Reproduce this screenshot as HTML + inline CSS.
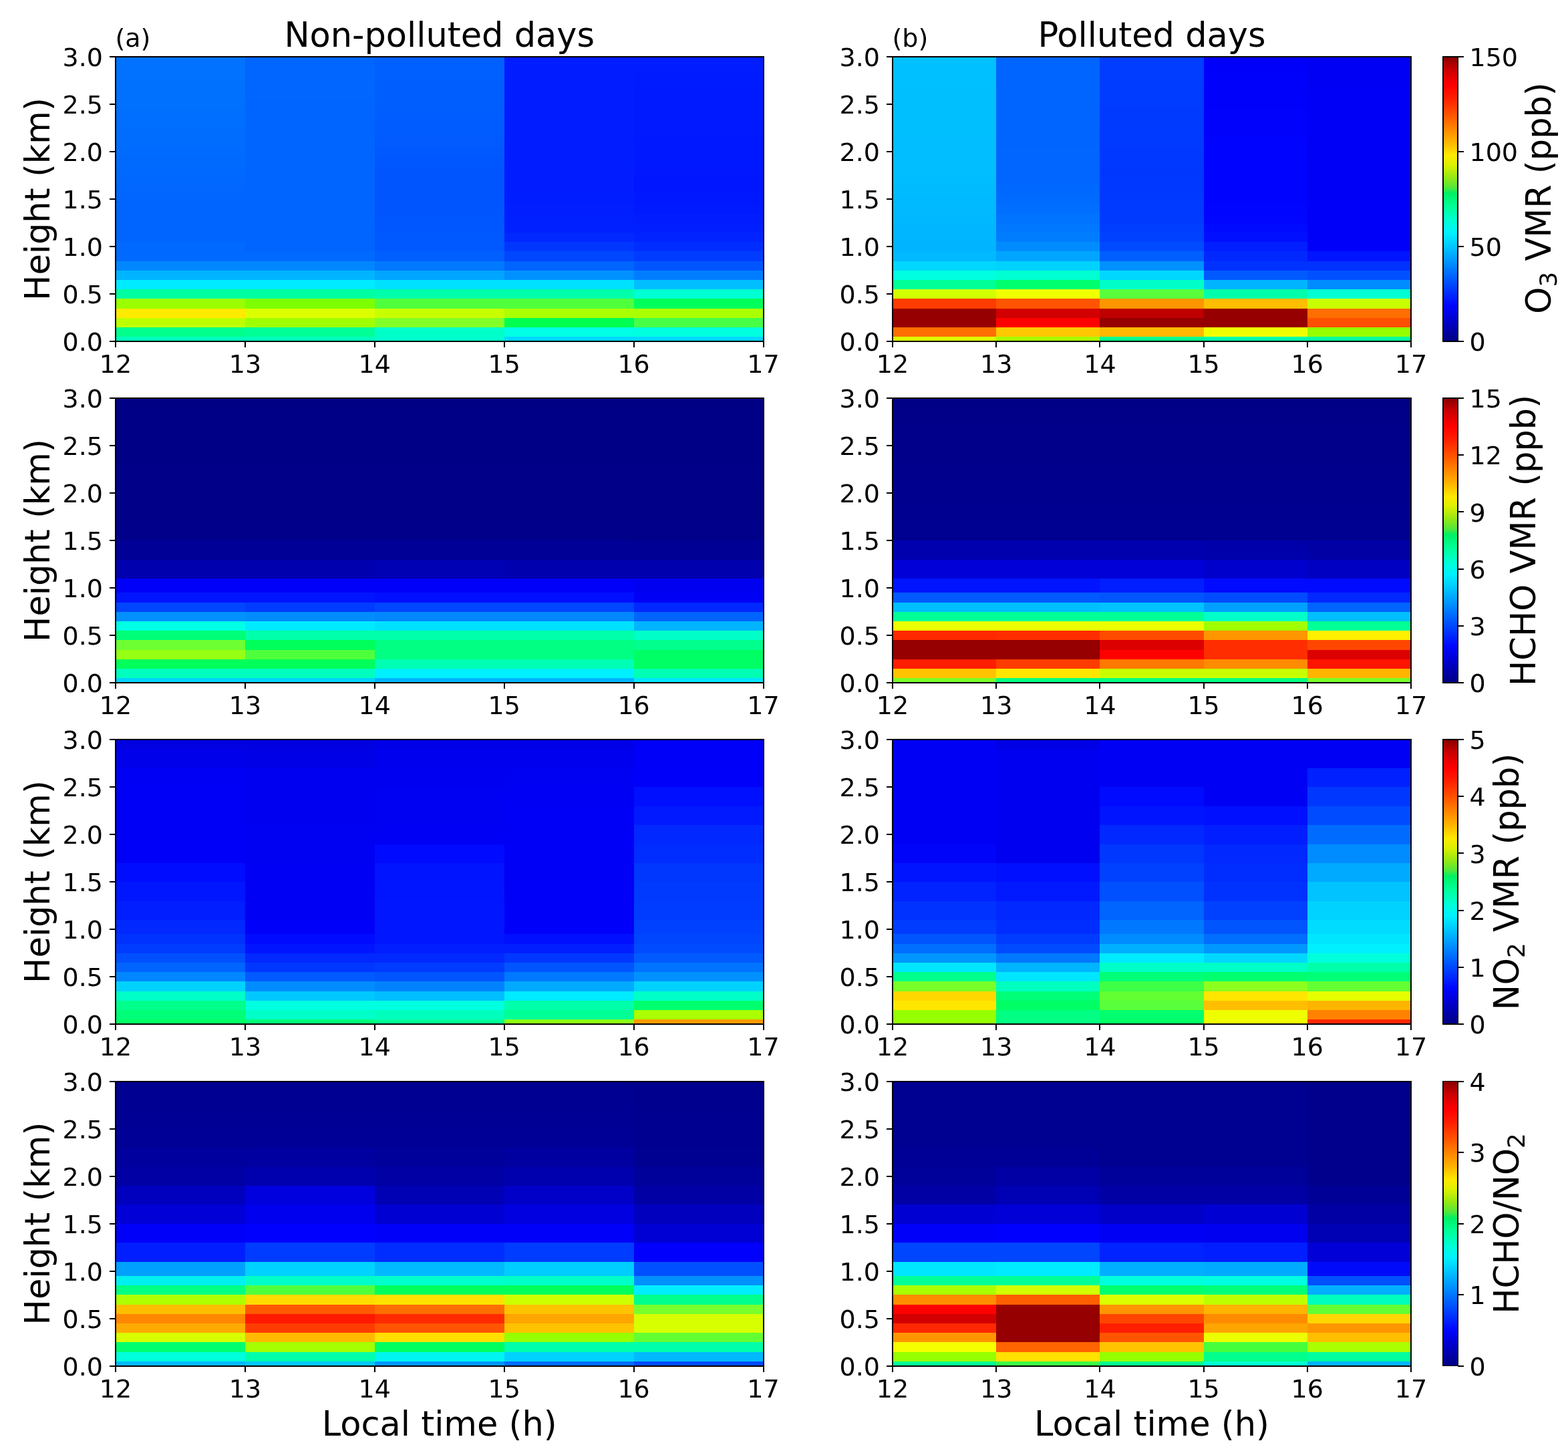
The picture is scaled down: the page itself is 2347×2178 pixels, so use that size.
<!DOCTYPE html>
<html><head><meta charset="utf-8"><title>Non-polluted vs polluted days profiles</title>
<style>
html,body{margin:0;padding:0;background:#fff;}
body{width:2347px;height:2178px;overflow:hidden;}
svg{display:block;font-family:"DejaVu Sans","Liberation Sans",sans-serif;fill:#000;}
</style></head>
<body>
<svg width="2347" height="2178" viewBox="0 0 2347 2178" shape-rendering="crispEdges">
<rect width="2347" height="2178" fill="#fff"/>
<rect x="173.00" y="503.60" width="194.30" height="7.70" fill="#00ffbe"/>
<rect x="173.00" y="489.40" width="194.30" height="14.80" fill="#00ff8c"/>
<rect x="173.00" y="475.20" width="194.30" height="14.80" fill="#beff00"/>
<rect x="173.00" y="461.00" width="194.30" height="14.80" fill="#ffeb00"/>
<rect x="173.00" y="446.80" width="194.30" height="14.80" fill="#9bff00"/>
<rect x="173.00" y="432.60" width="194.30" height="14.80" fill="#00ffa0"/>
<rect x="173.00" y="418.40" width="194.30" height="14.80" fill="#00ebff"/>
<rect x="173.00" y="404.20" width="194.30" height="14.80" fill="#00b4ff"/>
<rect x="173.00" y="390.00" width="194.30" height="14.80" fill="#0087ff"/>
<rect x="173.00" y="375.80" width="194.30" height="14.80" fill="#0069ff"/>
<rect x="173.00" y="361.60" width="194.30" height="14.80" fill="#0069ff"/>
<rect x="173.00" y="347.40" width="194.30" height="14.80" fill="#0064ff"/>
<rect x="173.00" y="333.20" width="194.30" height="14.80" fill="#0064ff"/>
<rect x="173.00" y="319.00" width="194.30" height="14.80" fill="#0064ff"/>
<rect x="173.00" y="304.80" width="194.30" height="14.80" fill="#0064ff"/>
<rect x="173.00" y="290.60" width="194.30" height="14.80" fill="#0064ff"/>
<rect x="173.00" y="276.40" width="194.30" height="14.80" fill="#0066ff"/>
<rect x="173.00" y="262.20" width="194.30" height="14.80" fill="#0067ff"/>
<rect x="173.00" y="248.00" width="194.30" height="14.80" fill="#0069ff"/>
<rect x="173.00" y="233.80" width="194.30" height="14.80" fill="#006aff"/>
<rect x="173.00" y="219.60" width="194.30" height="14.80" fill="#006cff"/>
<rect x="173.00" y="205.40" width="194.30" height="14.80" fill="#006dff"/>
<rect x="173.00" y="191.20" width="194.30" height="14.80" fill="#006dff"/>
<rect x="173.00" y="177.00" width="194.30" height="14.80" fill="#006eff"/>
<rect x="173.00" y="162.80" width="194.30" height="14.80" fill="#006fff"/>
<rect x="173.00" y="148.60" width="194.30" height="14.80" fill="#0070ff"/>
<rect x="173.00" y="134.40" width="194.30" height="14.80" fill="#0070ff"/>
<rect x="173.00" y="120.20" width="194.30" height="14.80" fill="#0071ff"/>
<rect x="173.00" y="106.00" width="194.30" height="14.80" fill="#0072ff"/>
<rect x="173.00" y="91.80" width="194.30" height="14.80" fill="#0072ff"/>
<rect x="173.00" y="84.70" width="194.30" height="7.70" fill="#0073ff"/>
<rect x="366.90" y="503.60" width="194.30" height="7.70" fill="#00ffbe"/>
<rect x="366.90" y="489.40" width="194.30" height="14.80" fill="#00ff96"/>
<rect x="366.90" y="475.20" width="194.30" height="14.80" fill="#a0ff00"/>
<rect x="366.90" y="461.00" width="194.30" height="14.80" fill="#dcff00"/>
<rect x="366.90" y="446.80" width="194.30" height="14.80" fill="#7dff00"/>
<rect x="366.90" y="432.60" width="194.30" height="14.80" fill="#00ffa0"/>
<rect x="366.90" y="418.40" width="194.30" height="14.80" fill="#00ebff"/>
<rect x="366.90" y="404.20" width="194.30" height="14.80" fill="#00b4ff"/>
<rect x="366.90" y="390.00" width="194.30" height="14.80" fill="#0087ff"/>
<rect x="366.90" y="375.80" width="194.30" height="14.80" fill="#0069ff"/>
<rect x="366.90" y="361.60" width="194.30" height="14.80" fill="#0064ff"/>
<rect x="366.90" y="347.40" width="194.30" height="14.80" fill="#0064ff"/>
<rect x="366.90" y="333.20" width="194.30" height="14.80" fill="#0064ff"/>
<rect x="366.90" y="319.00" width="194.30" height="14.80" fill="#0064ff"/>
<rect x="366.90" y="304.80" width="194.30" height="14.80" fill="#0064ff"/>
<rect x="366.90" y="290.60" width="194.30" height="14.80" fill="#0064ff"/>
<rect x="366.90" y="276.40" width="194.30" height="14.80" fill="#0065ff"/>
<rect x="366.90" y="262.20" width="194.30" height="14.80" fill="#0065ff"/>
<rect x="366.90" y="248.00" width="194.30" height="14.80" fill="#0065ff"/>
<rect x="366.90" y="233.80" width="194.30" height="14.80" fill="#0065ff"/>
<rect x="366.90" y="219.60" width="194.30" height="14.80" fill="#0065ff"/>
<rect x="366.90" y="205.40" width="194.30" height="14.80" fill="#0065ff"/>
<rect x="366.90" y="191.20" width="194.30" height="14.80" fill="#0065ff"/>
<rect x="366.90" y="177.00" width="194.30" height="14.80" fill="#0065ff"/>
<rect x="366.90" y="162.80" width="194.30" height="14.80" fill="#0065ff"/>
<rect x="366.90" y="148.60" width="194.30" height="14.80" fill="#0065ff"/>
<rect x="366.90" y="134.40" width="194.30" height="14.80" fill="#0066ff"/>
<rect x="366.90" y="120.20" width="194.30" height="14.80" fill="#0066ff"/>
<rect x="366.90" y="106.00" width="194.30" height="14.80" fill="#0066ff"/>
<rect x="366.90" y="91.80" width="194.30" height="14.80" fill="#0066ff"/>
<rect x="366.90" y="84.70" width="194.30" height="7.70" fill="#0066ff"/>
<rect x="560.80" y="503.60" width="194.30" height="7.70" fill="#00ffcd"/>
<rect x="560.80" y="489.40" width="194.30" height="14.80" fill="#00ffc8"/>
<rect x="560.80" y="475.20" width="194.30" height="14.80" fill="#82ff28"/>
<rect x="560.80" y="461.00" width="194.30" height="14.80" fill="#c8ff00"/>
<rect x="560.80" y="446.80" width="194.30" height="14.80" fill="#50ff3c"/>
<rect x="560.80" y="432.60" width="194.30" height="14.80" fill="#00ffaa"/>
<rect x="560.80" y="418.40" width="194.30" height="14.80" fill="#00e1ff"/>
<rect x="560.80" y="404.20" width="194.30" height="14.80" fill="#00a5ff"/>
<rect x="560.80" y="390.00" width="194.30" height="14.80" fill="#0078ff"/>
<rect x="560.80" y="375.80" width="194.30" height="14.80" fill="#005fff"/>
<rect x="560.80" y="361.60" width="194.30" height="14.80" fill="#0058ff"/>
<rect x="560.80" y="347.40" width="194.30" height="14.80" fill="#0058ff"/>
<rect x="560.80" y="333.20" width="194.30" height="14.80" fill="#0057ff"/>
<rect x="560.80" y="319.00" width="194.30" height="14.80" fill="#0056ff"/>
<rect x="560.80" y="304.80" width="194.30" height="14.80" fill="#0055ff"/>
<rect x="560.80" y="290.60" width="194.30" height="14.80" fill="#0055ff"/>
<rect x="560.80" y="276.40" width="194.30" height="14.80" fill="#0055ff"/>
<rect x="560.80" y="262.20" width="194.30" height="14.80" fill="#0055ff"/>
<rect x="560.80" y="248.00" width="194.30" height="14.80" fill="#0055ff"/>
<rect x="560.80" y="233.80" width="194.30" height="14.80" fill="#0057ff"/>
<rect x="560.80" y="219.60" width="194.30" height="14.80" fill="#0058ff"/>
<rect x="560.80" y="205.40" width="194.30" height="14.80" fill="#005aff"/>
<rect x="560.80" y="191.20" width="194.30" height="14.80" fill="#005cff"/>
<rect x="560.80" y="177.00" width="194.30" height="14.80" fill="#005cff"/>
<rect x="560.80" y="162.80" width="194.30" height="14.80" fill="#005dff"/>
<rect x="560.80" y="148.60" width="194.30" height="14.80" fill="#005eff"/>
<rect x="560.80" y="134.40" width="194.30" height="14.80" fill="#005eff"/>
<rect x="560.80" y="120.20" width="194.30" height="14.80" fill="#005eff"/>
<rect x="560.80" y="106.00" width="194.30" height="14.80" fill="#005fff"/>
<rect x="560.80" y="91.80" width="194.30" height="14.80" fill="#0060ff"/>
<rect x="560.80" y="84.70" width="194.30" height="7.70" fill="#0060ff"/>
<rect x="754.70" y="503.60" width="194.30" height="7.70" fill="#00d7ff"/>
<rect x="754.70" y="489.40" width="194.30" height="14.80" fill="#00ffe6"/>
<rect x="754.70" y="475.20" width="194.30" height="14.80" fill="#00ff50"/>
<rect x="754.70" y="461.00" width="194.30" height="14.80" fill="#aaff00"/>
<rect x="754.70" y="446.80" width="194.30" height="14.80" fill="#50ff3c"/>
<rect x="754.70" y="432.60" width="194.30" height="14.80" fill="#00ffaa"/>
<rect x="754.70" y="418.40" width="194.30" height="14.80" fill="#00e1ff"/>
<rect x="754.70" y="404.20" width="194.30" height="14.80" fill="#0091ff"/>
<rect x="754.70" y="390.00" width="194.30" height="14.80" fill="#0064ff"/>
<rect x="754.70" y="375.80" width="194.30" height="14.80" fill="#0046ff"/>
<rect x="754.70" y="361.60" width="194.30" height="14.80" fill="#0037ff"/>
<rect x="754.70" y="347.40" width="194.30" height="14.80" fill="#0028ff"/>
<rect x="754.70" y="333.20" width="194.30" height="14.80" fill="#0020ff"/>
<rect x="754.70" y="319.00" width="194.30" height="14.80" fill="#001fff"/>
<rect x="754.70" y="304.80" width="194.30" height="14.80" fill="#001eff"/>
<rect x="754.70" y="290.60" width="194.30" height="14.80" fill="#001dff"/>
<rect x="754.70" y="276.40" width="194.30" height="14.80" fill="#001cff"/>
<rect x="754.70" y="262.20" width="194.30" height="14.80" fill="#001cff"/>
<rect x="754.70" y="248.00" width="194.30" height="14.80" fill="#001cff"/>
<rect x="754.70" y="233.80" width="194.30" height="14.80" fill="#001cff"/>
<rect x="754.70" y="219.60" width="194.30" height="14.80" fill="#001cff"/>
<rect x="754.70" y="205.40" width="194.30" height="14.80" fill="#001cff"/>
<rect x="754.70" y="191.20" width="194.30" height="14.80" fill="#001cff"/>
<rect x="754.70" y="177.00" width="194.30" height="14.80" fill="#001cff"/>
<rect x="754.70" y="162.80" width="194.30" height="14.80" fill="#001cff"/>
<rect x="754.70" y="148.60" width="194.30" height="14.80" fill="#001cff"/>
<rect x="754.70" y="134.40" width="194.30" height="14.80" fill="#001cff"/>
<rect x="754.70" y="120.20" width="194.30" height="14.80" fill="#001cff"/>
<rect x="754.70" y="106.00" width="194.30" height="14.80" fill="#001cff"/>
<rect x="754.70" y="91.80" width="194.30" height="14.80" fill="#001cff"/>
<rect x="754.70" y="84.70" width="194.30" height="7.70" fill="#001cff"/>
<rect x="948.60" y="503.60" width="194.30" height="7.70" fill="#00d7ff"/>
<rect x="948.60" y="489.40" width="194.30" height="14.80" fill="#00ffe1"/>
<rect x="948.60" y="475.20" width="194.30" height="14.80" fill="#46ff46"/>
<rect x="948.60" y="461.00" width="194.30" height="14.80" fill="#aaff00"/>
<rect x="948.60" y="446.80" width="194.30" height="14.80" fill="#00ff5a"/>
<rect x="948.60" y="432.60" width="194.30" height="14.80" fill="#00ffd2"/>
<rect x="948.60" y="418.40" width="194.30" height="14.80" fill="#00beff"/>
<rect x="948.60" y="404.20" width="194.30" height="14.80" fill="#007dff"/>
<rect x="948.60" y="390.00" width="194.30" height="14.80" fill="#0055ff"/>
<rect x="948.60" y="375.80" width="194.30" height="14.80" fill="#003cff"/>
<rect x="948.60" y="361.60" width="194.30" height="14.80" fill="#002dff"/>
<rect x="948.60" y="347.40" width="194.30" height="14.80" fill="#0023ff"/>
<rect x="948.60" y="333.20" width="194.30" height="14.80" fill="#001eff"/>
<rect x="948.60" y="319.00" width="194.30" height="14.80" fill="#001cff"/>
<rect x="948.60" y="304.80" width="194.30" height="14.80" fill="#001aff"/>
<rect x="948.60" y="290.60" width="194.30" height="14.80" fill="#0018ff"/>
<rect x="948.60" y="276.40" width="194.30" height="14.80" fill="#0016ff"/>
<rect x="948.60" y="262.20" width="194.30" height="14.80" fill="#0016ff"/>
<rect x="948.60" y="248.00" width="194.30" height="14.80" fill="#0017ff"/>
<rect x="948.60" y="233.80" width="194.30" height="14.80" fill="#0018ff"/>
<rect x="948.60" y="219.60" width="194.30" height="14.80" fill="#0018ff"/>
<rect x="948.60" y="205.40" width="194.30" height="14.80" fill="#0018ff"/>
<rect x="948.60" y="191.20" width="194.30" height="14.80" fill="#0019ff"/>
<rect x="948.60" y="177.00" width="194.30" height="14.80" fill="#0019ff"/>
<rect x="948.60" y="162.80" width="194.30" height="14.80" fill="#001aff"/>
<rect x="948.60" y="148.60" width="194.30" height="14.80" fill="#001aff"/>
<rect x="948.60" y="134.40" width="194.30" height="14.80" fill="#001aff"/>
<rect x="948.60" y="120.20" width="194.30" height="14.80" fill="#001bff"/>
<rect x="948.60" y="106.00" width="194.30" height="14.80" fill="#001bff"/>
<rect x="948.60" y="91.80" width="194.30" height="14.80" fill="#001cff"/>
<rect x="948.60" y="84.70" width="194.30" height="7.70" fill="#001cff"/>
<rect x="173.00" y="85.00" width="969.50" height="426.00" fill="none" stroke="#000" stroke-width="2"/>
<line x1="164.00" y1="511.00" x2="173.00" y2="511.00" stroke="#000" stroke-width="2"/>
<text x="154.00" y="525.20" font-size="38" text-anchor="end">0.0</text>
<line x1="164.00" y1="440.00" x2="173.00" y2="440.00" stroke="#000" stroke-width="2"/>
<text x="154.00" y="454.20" font-size="38" text-anchor="end">0.5</text>
<line x1="164.00" y1="369.00" x2="173.00" y2="369.00" stroke="#000" stroke-width="2"/>
<text x="154.00" y="383.20" font-size="38" text-anchor="end">1.0</text>
<line x1="164.00" y1="298.00" x2="173.00" y2="298.00" stroke="#000" stroke-width="2"/>
<text x="154.00" y="312.20" font-size="38" text-anchor="end">1.5</text>
<line x1="164.00" y1="227.00" x2="173.00" y2="227.00" stroke="#000" stroke-width="2"/>
<text x="154.00" y="241.20" font-size="38" text-anchor="end">2.0</text>
<line x1="164.00" y1="156.00" x2="173.00" y2="156.00" stroke="#000" stroke-width="2"/>
<text x="154.00" y="170.20" font-size="38" text-anchor="end">2.5</text>
<line x1="164.00" y1="85.00" x2="173.00" y2="85.00" stroke="#000" stroke-width="2"/>
<text x="154.00" y="99.20" font-size="38" text-anchor="end">3.0</text>
<line x1="173.00" y1="511.00" x2="173.00" y2="520.00" stroke="#000" stroke-width="2"/>
<text x="173.00" y="558.00" font-size="38" text-anchor="middle">12</text>
<line x1="366.90" y1="511.00" x2="366.90" y2="520.00" stroke="#000" stroke-width="2"/>
<text x="366.90" y="558.00" font-size="38" text-anchor="middle">13</text>
<line x1="560.80" y1="511.00" x2="560.80" y2="520.00" stroke="#000" stroke-width="2"/>
<text x="560.80" y="558.00" font-size="38" text-anchor="middle">14</text>
<line x1="754.70" y1="511.00" x2="754.70" y2="520.00" stroke="#000" stroke-width="2"/>
<text x="754.70" y="558.00" font-size="38" text-anchor="middle">15</text>
<line x1="948.60" y1="511.00" x2="948.60" y2="520.00" stroke="#000" stroke-width="2"/>
<text x="948.60" y="558.00" font-size="38" text-anchor="middle">16</text>
<line x1="1142.50" y1="511.00" x2="1142.50" y2="520.00" stroke="#000" stroke-width="2"/>
<text x="1142.50" y="558.00" font-size="38" text-anchor="middle">17</text>
<rect x="1336.00" y="503.60" width="155.60" height="7.70" fill="#dcff00"/>
<rect x="1336.00" y="489.40" width="155.60" height="14.80" fill="#ff6e00"/>
<rect x="1336.00" y="475.20" width="155.60" height="14.80" fill="#960000"/>
<rect x="1336.00" y="461.00" width="155.60" height="14.80" fill="#960000"/>
<rect x="1336.00" y="446.80" width="155.60" height="14.80" fill="#ff3c00"/>
<rect x="1336.00" y="432.60" width="155.60" height="14.80" fill="#d2ff00"/>
<rect x="1336.00" y="418.40" width="155.60" height="14.80" fill="#00ff96"/>
<rect x="1336.00" y="404.20" width="155.60" height="14.80" fill="#00ffe1"/>
<rect x="1336.00" y="390.00" width="155.60" height="14.80" fill="#00d7ff"/>
<rect x="1336.00" y="375.80" width="155.60" height="14.80" fill="#00b9ff"/>
<rect x="1336.00" y="361.60" width="155.60" height="14.80" fill="#00b4ff"/>
<rect x="1336.00" y="347.40" width="155.60" height="14.80" fill="#00b6ff"/>
<rect x="1336.00" y="333.20" width="155.60" height="14.80" fill="#00b7ff"/>
<rect x="1336.00" y="319.00" width="155.60" height="14.80" fill="#00b8ff"/>
<rect x="1336.00" y="304.80" width="155.60" height="14.80" fill="#00b9ff"/>
<rect x="1336.00" y="290.60" width="155.60" height="14.80" fill="#00baff"/>
<rect x="1336.00" y="276.40" width="155.60" height="14.80" fill="#00bcff"/>
<rect x="1336.00" y="262.20" width="155.60" height="14.80" fill="#00bdff"/>
<rect x="1336.00" y="248.00" width="155.60" height="14.80" fill="#00beff"/>
<rect x="1336.00" y="233.80" width="155.60" height="14.80" fill="#00beff"/>
<rect x="1336.00" y="219.60" width="155.60" height="14.80" fill="#00beff"/>
<rect x="1336.00" y="205.40" width="155.60" height="14.80" fill="#00beff"/>
<rect x="1336.00" y="191.20" width="155.60" height="14.80" fill="#00bfff"/>
<rect x="1336.00" y="177.00" width="155.60" height="14.80" fill="#00bfff"/>
<rect x="1336.00" y="162.80" width="155.60" height="14.80" fill="#00bfff"/>
<rect x="1336.00" y="148.60" width="155.60" height="14.80" fill="#00bfff"/>
<rect x="1336.00" y="134.40" width="155.60" height="14.80" fill="#00bfff"/>
<rect x="1336.00" y="120.20" width="155.60" height="14.80" fill="#00c0ff"/>
<rect x="1336.00" y="106.00" width="155.60" height="14.80" fill="#00c0ff"/>
<rect x="1336.00" y="91.80" width="155.60" height="14.80" fill="#00c0ff"/>
<rect x="1336.00" y="84.70" width="155.60" height="7.70" fill="#00c0ff"/>
<rect x="1491.20" y="503.60" width="155.60" height="7.70" fill="#aaff00"/>
<rect x="1491.20" y="489.40" width="155.60" height="14.80" fill="#ffc800"/>
<rect x="1491.20" y="475.20" width="155.60" height="14.80" fill="#ff0000"/>
<rect x="1491.20" y="461.00" width="155.60" height="14.80" fill="#d20000"/>
<rect x="1491.20" y="446.80" width="155.60" height="14.80" fill="#ff5500"/>
<rect x="1491.20" y="432.60" width="155.60" height="14.80" fill="#f0ff00"/>
<rect x="1491.20" y="418.40" width="155.60" height="14.80" fill="#00ff6e"/>
<rect x="1491.20" y="404.20" width="155.60" height="14.80" fill="#00ffd2"/>
<rect x="1491.20" y="390.00" width="155.60" height="14.80" fill="#00d2ff"/>
<rect x="1491.20" y="375.80" width="155.60" height="14.80" fill="#00a5ff"/>
<rect x="1491.20" y="361.60" width="155.60" height="14.80" fill="#008cff"/>
<rect x="1491.20" y="347.40" width="155.60" height="14.80" fill="#007dff"/>
<rect x="1491.20" y="333.20" width="155.60" height="14.80" fill="#0078ff"/>
<rect x="1491.20" y="319.00" width="155.60" height="14.80" fill="#0073ff"/>
<rect x="1491.20" y="304.80" width="155.60" height="14.80" fill="#006eff"/>
<rect x="1491.20" y="290.60" width="155.60" height="14.80" fill="#006bff"/>
<rect x="1491.20" y="276.40" width="155.60" height="14.80" fill="#0069ff"/>
<rect x="1491.20" y="262.20" width="155.60" height="14.80" fill="#0066ff"/>
<rect x="1491.20" y="248.00" width="155.60" height="14.80" fill="#0066ff"/>
<rect x="1491.20" y="233.80" width="155.60" height="14.80" fill="#0066ff"/>
<rect x="1491.20" y="219.60" width="155.60" height="14.80" fill="#0066ff"/>
<rect x="1491.20" y="205.40" width="155.60" height="14.80" fill="#0065ff"/>
<rect x="1491.20" y="191.20" width="155.60" height="14.80" fill="#0065ff"/>
<rect x="1491.20" y="177.00" width="155.60" height="14.80" fill="#0065ff"/>
<rect x="1491.20" y="162.80" width="155.60" height="14.80" fill="#0065ff"/>
<rect x="1491.20" y="148.60" width="155.60" height="14.80" fill="#0065ff"/>
<rect x="1491.20" y="134.40" width="155.60" height="14.80" fill="#0065ff"/>
<rect x="1491.20" y="120.20" width="155.60" height="14.80" fill="#0064ff"/>
<rect x="1491.20" y="106.00" width="155.60" height="14.80" fill="#0064ff"/>
<rect x="1491.20" y="91.80" width="155.60" height="14.80" fill="#0064ff"/>
<rect x="1491.20" y="84.70" width="155.60" height="7.70" fill="#0064ff"/>
<rect x="1646.40" y="503.60" width="155.60" height="7.70" fill="#00ff8c"/>
<rect x="1646.40" y="489.40" width="155.60" height="14.80" fill="#ffb900"/>
<rect x="1646.40" y="475.20" width="155.60" height="14.80" fill="#960000"/>
<rect x="1646.40" y="461.00" width="155.60" height="14.80" fill="#be0000"/>
<rect x="1646.40" y="446.80" width="155.60" height="14.80" fill="#ff9600"/>
<rect x="1646.40" y="432.60" width="155.60" height="14.80" fill="#5aff3c"/>
<rect x="1646.40" y="418.40" width="155.60" height="14.80" fill="#00ffc8"/>
<rect x="1646.40" y="404.20" width="155.60" height="14.80" fill="#00d7ff"/>
<rect x="1646.40" y="390.00" width="155.60" height="14.80" fill="#0091ff"/>
<rect x="1646.40" y="375.80" width="155.60" height="14.80" fill="#005fff"/>
<rect x="1646.40" y="361.60" width="155.60" height="14.80" fill="#004bff"/>
<rect x="1646.40" y="347.40" width="155.60" height="14.80" fill="#0041ff"/>
<rect x="1646.40" y="333.20" width="155.60" height="14.80" fill="#003eff"/>
<rect x="1646.40" y="319.00" width="155.60" height="14.80" fill="#003aff"/>
<rect x="1646.40" y="304.80" width="155.60" height="14.80" fill="#0039ff"/>
<rect x="1646.40" y="290.60" width="155.60" height="14.80" fill="#0039ff"/>
<rect x="1646.40" y="276.40" width="155.60" height="14.80" fill="#0038ff"/>
<rect x="1646.40" y="262.20" width="155.60" height="14.80" fill="#0038ff"/>
<rect x="1646.40" y="248.00" width="155.60" height="14.80" fill="#0037ff"/>
<rect x="1646.40" y="233.80" width="155.60" height="14.80" fill="#0038ff"/>
<rect x="1646.40" y="219.60" width="155.60" height="14.80" fill="#0038ff"/>
<rect x="1646.40" y="205.40" width="155.60" height="14.80" fill="#0039ff"/>
<rect x="1646.40" y="191.20" width="155.60" height="14.80" fill="#0039ff"/>
<rect x="1646.40" y="177.00" width="155.60" height="14.80" fill="#003aff"/>
<rect x="1646.40" y="162.80" width="155.60" height="14.80" fill="#003aff"/>
<rect x="1646.40" y="148.60" width="155.60" height="14.80" fill="#003bff"/>
<rect x="1646.40" y="134.40" width="155.60" height="14.80" fill="#003cff"/>
<rect x="1646.40" y="120.20" width="155.60" height="14.80" fill="#003cff"/>
<rect x="1646.40" y="106.00" width="155.60" height="14.80" fill="#003dff"/>
<rect x="1646.40" y="91.80" width="155.60" height="14.80" fill="#003dff"/>
<rect x="1646.40" y="84.70" width="155.60" height="7.70" fill="#003eff"/>
<rect x="1801.60" y="503.60" width="155.60" height="7.70" fill="#00ffaa"/>
<rect x="1801.60" y="489.40" width="155.60" height="14.80" fill="#f0ff00"/>
<rect x="1801.60" y="475.20" width="155.60" height="14.80" fill="#960000"/>
<rect x="1801.60" y="461.00" width="155.60" height="14.80" fill="#960000"/>
<rect x="1801.60" y="446.80" width="155.60" height="14.80" fill="#ffbe00"/>
<rect x="1801.60" y="432.60" width="155.60" height="14.80" fill="#00ffaa"/>
<rect x="1801.60" y="418.40" width="155.60" height="14.80" fill="#00b4ff"/>
<rect x="1801.60" y="404.20" width="155.60" height="14.80" fill="#005aff"/>
<rect x="1801.60" y="390.00" width="155.60" height="14.80" fill="#0032ff"/>
<rect x="1801.60" y="375.80" width="155.60" height="14.80" fill="#0028ff"/>
<rect x="1801.60" y="361.60" width="155.60" height="14.80" fill="#001eff"/>
<rect x="1801.60" y="347.40" width="155.60" height="14.80" fill="#000fff"/>
<rect x="1801.60" y="333.20" width="155.60" height="14.80" fill="#000aff"/>
<rect x="1801.60" y="319.00" width="155.60" height="14.80" fill="#0005ff"/>
<rect x="1801.60" y="304.80" width="155.60" height="14.80" fill="#0005ff"/>
<rect x="1801.60" y="290.60" width="155.60" height="14.80" fill="#0004fe"/>
<rect x="1801.60" y="276.40" width="155.60" height="14.80" fill="#0004fe"/>
<rect x="1801.60" y="262.20" width="155.60" height="14.80" fill="#0004fe"/>
<rect x="1801.60" y="248.00" width="155.60" height="14.80" fill="#0004fe"/>
<rect x="1801.60" y="233.80" width="155.60" height="14.80" fill="#0003fd"/>
<rect x="1801.60" y="219.60" width="155.60" height="14.80" fill="#0003fd"/>
<rect x="1801.60" y="205.40" width="155.60" height="14.80" fill="#0003fd"/>
<rect x="1801.60" y="191.20" width="155.60" height="14.80" fill="#0002fc"/>
<rect x="1801.60" y="177.00" width="155.60" height="14.80" fill="#0002fc"/>
<rect x="1801.60" y="162.80" width="155.60" height="14.80" fill="#0002fc"/>
<rect x="1801.60" y="148.60" width="155.60" height="14.80" fill="#0001fb"/>
<rect x="1801.60" y="134.40" width="155.60" height="14.80" fill="#0001fb"/>
<rect x="1801.60" y="120.20" width="155.60" height="14.80" fill="#0001fb"/>
<rect x="1801.60" y="106.00" width="155.60" height="14.80" fill="#0001fb"/>
<rect x="1801.60" y="91.80" width="155.60" height="14.80" fill="#0000fa"/>
<rect x="1801.60" y="84.70" width="155.60" height="7.70" fill="#0000fa"/>
<rect x="1956.80" y="503.60" width="155.60" height="7.70" fill="#00ffa0"/>
<rect x="1956.80" y="489.40" width="155.60" height="14.80" fill="#96ff00"/>
<rect x="1956.80" y="475.20" width="155.60" height="14.80" fill="#ff5000"/>
<rect x="1956.80" y="461.00" width="155.60" height="14.80" fill="#ff6e00"/>
<rect x="1956.80" y="446.80" width="155.60" height="14.80" fill="#c8ff00"/>
<rect x="1956.80" y="432.60" width="155.60" height="14.80" fill="#00ffd2"/>
<rect x="1956.80" y="418.40" width="155.60" height="14.80" fill="#008cff"/>
<rect x="1956.80" y="404.20" width="155.60" height="14.80" fill="#0050ff"/>
<rect x="1956.80" y="390.00" width="155.60" height="14.80" fill="#0032ff"/>
<rect x="1956.80" y="375.80" width="155.60" height="14.80" fill="#0014ff"/>
<rect x="1956.80" y="361.60" width="155.60" height="14.80" fill="#0000fa"/>
<rect x="1956.80" y="347.40" width="155.60" height="14.80" fill="#0000f8"/>
<rect x="1956.80" y="333.20" width="155.60" height="14.80" fill="#0000f8"/>
<rect x="1956.80" y="319.00" width="155.60" height="14.80" fill="#0000f8"/>
<rect x="1956.80" y="304.80" width="155.60" height="14.80" fill="#0000f8"/>
<rect x="1956.80" y="290.60" width="155.60" height="14.80" fill="#0000f7"/>
<rect x="1956.80" y="276.40" width="155.60" height="14.80" fill="#0000f7"/>
<rect x="1956.80" y="262.20" width="155.60" height="14.80" fill="#0000f7"/>
<rect x="1956.80" y="248.00" width="155.60" height="14.80" fill="#0000f7"/>
<rect x="1956.80" y="233.80" width="155.60" height="14.80" fill="#0000f7"/>
<rect x="1956.80" y="219.60" width="155.60" height="14.80" fill="#0000f7"/>
<rect x="1956.80" y="205.40" width="155.60" height="14.80" fill="#0000f6"/>
<rect x="1956.80" y="191.20" width="155.60" height="14.80" fill="#0000f6"/>
<rect x="1956.80" y="177.00" width="155.60" height="14.80" fill="#0000f6"/>
<rect x="1956.80" y="162.80" width="155.60" height="14.80" fill="#0000f6"/>
<rect x="1956.80" y="148.60" width="155.60" height="14.80" fill="#0000f6"/>
<rect x="1956.80" y="134.40" width="155.60" height="14.80" fill="#0000f6"/>
<rect x="1956.80" y="120.20" width="155.60" height="14.80" fill="#0000f5"/>
<rect x="1956.80" y="106.00" width="155.60" height="14.80" fill="#0000f5"/>
<rect x="1956.80" y="91.80" width="155.60" height="14.80" fill="#0000f5"/>
<rect x="1956.80" y="84.70" width="155.60" height="7.70" fill="#0000f5"/>
<rect x="1336.00" y="85.00" width="776.00" height="426.00" fill="none" stroke="#000" stroke-width="2"/>
<line x1="1327.00" y1="511.00" x2="1336.00" y2="511.00" stroke="#000" stroke-width="2"/>
<text x="1317.00" y="525.20" font-size="38" text-anchor="end">0.0</text>
<line x1="1327.00" y1="440.00" x2="1336.00" y2="440.00" stroke="#000" stroke-width="2"/>
<text x="1317.00" y="454.20" font-size="38" text-anchor="end">0.5</text>
<line x1="1327.00" y1="369.00" x2="1336.00" y2="369.00" stroke="#000" stroke-width="2"/>
<text x="1317.00" y="383.20" font-size="38" text-anchor="end">1.0</text>
<line x1="1327.00" y1="298.00" x2="1336.00" y2="298.00" stroke="#000" stroke-width="2"/>
<text x="1317.00" y="312.20" font-size="38" text-anchor="end">1.5</text>
<line x1="1327.00" y1="227.00" x2="1336.00" y2="227.00" stroke="#000" stroke-width="2"/>
<text x="1317.00" y="241.20" font-size="38" text-anchor="end">2.0</text>
<line x1="1327.00" y1="156.00" x2="1336.00" y2="156.00" stroke="#000" stroke-width="2"/>
<text x="1317.00" y="170.20" font-size="38" text-anchor="end">2.5</text>
<line x1="1327.00" y1="85.00" x2="1336.00" y2="85.00" stroke="#000" stroke-width="2"/>
<text x="1317.00" y="99.20" font-size="38" text-anchor="end">3.0</text>
<line x1="1336.00" y1="511.00" x2="1336.00" y2="520.00" stroke="#000" stroke-width="2"/>
<text x="1336.00" y="558.00" font-size="38" text-anchor="middle">12</text>
<line x1="1491.20" y1="511.00" x2="1491.20" y2="520.00" stroke="#000" stroke-width="2"/>
<text x="1491.20" y="558.00" font-size="38" text-anchor="middle">13</text>
<line x1="1646.40" y1="511.00" x2="1646.40" y2="520.00" stroke="#000" stroke-width="2"/>
<text x="1646.40" y="558.00" font-size="38" text-anchor="middle">14</text>
<line x1="1801.60" y1="511.00" x2="1801.60" y2="520.00" stroke="#000" stroke-width="2"/>
<text x="1801.60" y="558.00" font-size="38" text-anchor="middle">15</text>
<line x1="1956.80" y1="511.00" x2="1956.80" y2="520.00" stroke="#000" stroke-width="2"/>
<text x="1956.80" y="558.00" font-size="38" text-anchor="middle">16</text>
<line x1="2112.00" y1="511.00" x2="2112.00" y2="520.00" stroke="#000" stroke-width="2"/>
<text x="2112.00" y="558.00" font-size="38" text-anchor="middle">17</text>
<rect x="173.00" y="1014.60" width="194.30" height="7.70" fill="#00d2ff"/>
<rect x="173.00" y="1000.40" width="194.30" height="14.80" fill="#00ffbe"/>
<rect x="173.00" y="986.20" width="194.30" height="14.80" fill="#00ff5a"/>
<rect x="173.00" y="972.00" width="194.30" height="14.80" fill="#96ff14"/>
<rect x="173.00" y="957.80" width="194.30" height="14.80" fill="#6eff32"/>
<rect x="173.00" y="943.60" width="194.30" height="14.80" fill="#00ff78"/>
<rect x="173.00" y="929.40" width="194.30" height="14.80" fill="#00ffe6"/>
<rect x="173.00" y="915.20" width="194.30" height="14.80" fill="#0091ff"/>
<rect x="173.00" y="901.00" width="194.30" height="14.80" fill="#0046ff"/>
<rect x="173.00" y="886.80" width="194.30" height="14.80" fill="#0014ff"/>
<rect x="173.00" y="865.50" width="194.30" height="21.90" fill="#0000fa"/>
<rect x="173.00" y="837.10" width="194.30" height="29.00" fill="#0000af"/>
<rect x="173.00" y="808.70" width="194.30" height="29.00" fill="#000096"/>
<rect x="173.00" y="780.30" width="194.30" height="29.00" fill="#00008a"/>
<rect x="173.00" y="751.90" width="194.30" height="29.00" fill="#000089"/>
<rect x="173.00" y="723.50" width="194.30" height="29.00" fill="#000089"/>
<rect x="173.00" y="695.10" width="194.30" height="29.00" fill="#000088"/>
<rect x="173.00" y="666.70" width="194.30" height="29.00" fill="#000087"/>
<rect x="173.00" y="638.30" width="194.30" height="29.00" fill="#000086"/>
<rect x="173.00" y="609.90" width="194.30" height="29.00" fill="#000086"/>
<rect x="173.00" y="595.70" width="194.30" height="14.80" fill="#000085"/>
<rect x="366.90" y="1014.60" width="194.30" height="7.70" fill="#00d2ff"/>
<rect x="366.90" y="1000.40" width="194.30" height="14.80" fill="#00ffbe"/>
<rect x="366.90" y="986.20" width="194.30" height="14.80" fill="#00ff5a"/>
<rect x="366.90" y="972.00" width="194.30" height="14.80" fill="#50ff3c"/>
<rect x="366.90" y="957.80" width="194.30" height="14.80" fill="#00ff5a"/>
<rect x="366.90" y="943.60" width="194.30" height="14.80" fill="#00ffaa"/>
<rect x="366.90" y="929.40" width="194.30" height="14.80" fill="#00ebff"/>
<rect x="366.90" y="915.20" width="194.30" height="14.80" fill="#008cff"/>
<rect x="366.90" y="901.00" width="194.30" height="14.80" fill="#003cff"/>
<rect x="366.90" y="886.80" width="194.30" height="14.80" fill="#0014ff"/>
<rect x="366.90" y="865.50" width="194.30" height="21.90" fill="#0000fa"/>
<rect x="366.90" y="837.10" width="194.30" height="29.00" fill="#0000af"/>
<rect x="366.90" y="808.70" width="194.30" height="29.00" fill="#000096"/>
<rect x="366.90" y="780.30" width="194.30" height="29.00" fill="#00008a"/>
<rect x="366.90" y="751.90" width="194.30" height="29.00" fill="#000089"/>
<rect x="366.90" y="723.50" width="194.30" height="29.00" fill="#000089"/>
<rect x="366.90" y="695.10" width="194.30" height="29.00" fill="#000088"/>
<rect x="366.90" y="666.70" width="194.30" height="29.00" fill="#000087"/>
<rect x="366.90" y="638.30" width="194.30" height="29.00" fill="#000086"/>
<rect x="366.90" y="609.90" width="194.30" height="29.00" fill="#000086"/>
<rect x="366.90" y="595.70" width="194.30" height="14.80" fill="#000085"/>
<rect x="560.80" y="1014.60" width="194.30" height="7.70" fill="#00b4ff"/>
<rect x="560.80" y="1000.40" width="194.30" height="14.80" fill="#00f0ff"/>
<rect x="560.80" y="986.20" width="194.30" height="14.80" fill="#00ffb4"/>
<rect x="560.80" y="972.00" width="194.30" height="14.80" fill="#00ff82"/>
<rect x="560.80" y="957.80" width="194.30" height="14.80" fill="#00ff82"/>
<rect x="560.80" y="943.60" width="194.30" height="14.80" fill="#00ffaa"/>
<rect x="560.80" y="929.40" width="194.30" height="14.80" fill="#00e1ff"/>
<rect x="560.80" y="915.20" width="194.30" height="14.80" fill="#0087ff"/>
<rect x="560.80" y="901.00" width="194.30" height="14.80" fill="#0046ff"/>
<rect x="560.80" y="886.80" width="194.30" height="14.80" fill="#000fff"/>
<rect x="560.80" y="865.50" width="194.30" height="21.90" fill="#0000fa"/>
<rect x="560.80" y="837.10" width="194.30" height="29.00" fill="#0000b4"/>
<rect x="560.80" y="808.70" width="194.30" height="29.00" fill="#000096"/>
<rect x="560.80" y="780.30" width="194.30" height="29.00" fill="#00008a"/>
<rect x="560.80" y="751.90" width="194.30" height="29.00" fill="#000089"/>
<rect x="560.80" y="723.50" width="194.30" height="29.00" fill="#000089"/>
<rect x="560.80" y="695.10" width="194.30" height="29.00" fill="#000088"/>
<rect x="560.80" y="666.70" width="194.30" height="29.00" fill="#000087"/>
<rect x="560.80" y="638.30" width="194.30" height="29.00" fill="#000086"/>
<rect x="560.80" y="609.90" width="194.30" height="29.00" fill="#000086"/>
<rect x="560.80" y="595.70" width="194.30" height="14.80" fill="#000085"/>
<rect x="754.70" y="1014.60" width="194.30" height="7.70" fill="#00b4ff"/>
<rect x="754.70" y="1000.40" width="194.30" height="14.80" fill="#00f0ff"/>
<rect x="754.70" y="986.20" width="194.30" height="14.80" fill="#00ffb4"/>
<rect x="754.70" y="972.00" width="194.30" height="14.80" fill="#00ff82"/>
<rect x="754.70" y="957.80" width="194.30" height="14.80" fill="#00ff82"/>
<rect x="754.70" y="943.60" width="194.30" height="14.80" fill="#00ffaa"/>
<rect x="754.70" y="929.40" width="194.30" height="14.80" fill="#00e1ff"/>
<rect x="754.70" y="915.20" width="194.30" height="14.80" fill="#0087ff"/>
<rect x="754.70" y="901.00" width="194.30" height="14.80" fill="#0046ff"/>
<rect x="754.70" y="886.80" width="194.30" height="14.80" fill="#000fff"/>
<rect x="754.70" y="865.50" width="194.30" height="21.90" fill="#0000fa"/>
<rect x="754.70" y="837.10" width="194.30" height="29.00" fill="#0000af"/>
<rect x="754.70" y="808.70" width="194.30" height="29.00" fill="#000096"/>
<rect x="754.70" y="780.30" width="194.30" height="29.00" fill="#00008a"/>
<rect x="754.70" y="751.90" width="194.30" height="29.00" fill="#000089"/>
<rect x="754.70" y="723.50" width="194.30" height="29.00" fill="#000089"/>
<rect x="754.70" y="695.10" width="194.30" height="29.00" fill="#000088"/>
<rect x="754.70" y="666.70" width="194.30" height="29.00" fill="#000087"/>
<rect x="754.70" y="638.30" width="194.30" height="29.00" fill="#000086"/>
<rect x="754.70" y="609.90" width="194.30" height="29.00" fill="#000086"/>
<rect x="754.70" y="595.70" width="194.30" height="14.80" fill="#000085"/>
<rect x="948.60" y="1014.60" width="194.30" height="7.70" fill="#00e6ff"/>
<rect x="948.60" y="1000.40" width="194.30" height="14.80" fill="#00ffb4"/>
<rect x="948.60" y="986.20" width="194.30" height="14.80" fill="#00ff64"/>
<rect x="948.60" y="972.00" width="194.30" height="14.80" fill="#00ff64"/>
<rect x="948.60" y="957.80" width="194.30" height="14.80" fill="#00ff8c"/>
<rect x="948.60" y="943.60" width="194.30" height="14.80" fill="#00ffc8"/>
<rect x="948.60" y="929.40" width="194.30" height="14.80" fill="#00b4ff"/>
<rect x="948.60" y="915.20" width="194.30" height="14.80" fill="#0064ff"/>
<rect x="948.60" y="901.00" width="194.30" height="14.80" fill="#0028ff"/>
<rect x="948.60" y="886.80" width="194.30" height="14.80" fill="#0000f5"/>
<rect x="948.60" y="865.50" width="194.30" height="21.90" fill="#0000f0"/>
<rect x="948.60" y="837.10" width="194.30" height="29.00" fill="#0000af"/>
<rect x="948.60" y="808.70" width="194.30" height="29.00" fill="#000094"/>
<rect x="948.60" y="780.30" width="194.30" height="29.00" fill="#00008a"/>
<rect x="948.60" y="751.90" width="194.30" height="29.00" fill="#000089"/>
<rect x="948.60" y="723.50" width="194.30" height="29.00" fill="#000089"/>
<rect x="948.60" y="695.10" width="194.30" height="29.00" fill="#000088"/>
<rect x="948.60" y="666.70" width="194.30" height="29.00" fill="#000087"/>
<rect x="948.60" y="638.30" width="194.30" height="29.00" fill="#000086"/>
<rect x="948.60" y="609.90" width="194.30" height="29.00" fill="#000086"/>
<rect x="948.60" y="595.70" width="194.30" height="14.80" fill="#000085"/>
<rect x="173.00" y="596.00" width="969.50" height="426.00" fill="none" stroke="#000" stroke-width="2"/>
<line x1="164.00" y1="1022.00" x2="173.00" y2="1022.00" stroke="#000" stroke-width="2"/>
<text x="154.00" y="1036.20" font-size="38" text-anchor="end">0.0</text>
<line x1="164.00" y1="951.00" x2="173.00" y2="951.00" stroke="#000" stroke-width="2"/>
<text x="154.00" y="965.20" font-size="38" text-anchor="end">0.5</text>
<line x1="164.00" y1="880.00" x2="173.00" y2="880.00" stroke="#000" stroke-width="2"/>
<text x="154.00" y="894.20" font-size="38" text-anchor="end">1.0</text>
<line x1="164.00" y1="809.00" x2="173.00" y2="809.00" stroke="#000" stroke-width="2"/>
<text x="154.00" y="823.20" font-size="38" text-anchor="end">1.5</text>
<line x1="164.00" y1="738.00" x2="173.00" y2="738.00" stroke="#000" stroke-width="2"/>
<text x="154.00" y="752.20" font-size="38" text-anchor="end">2.0</text>
<line x1="164.00" y1="667.00" x2="173.00" y2="667.00" stroke="#000" stroke-width="2"/>
<text x="154.00" y="681.20" font-size="38" text-anchor="end">2.5</text>
<line x1="164.00" y1="596.00" x2="173.00" y2="596.00" stroke="#000" stroke-width="2"/>
<text x="154.00" y="610.20" font-size="38" text-anchor="end">3.0</text>
<line x1="173.00" y1="1022.00" x2="173.00" y2="1031.00" stroke="#000" stroke-width="2"/>
<text x="173.00" y="1069.00" font-size="38" text-anchor="middle">12</text>
<line x1="366.90" y1="1022.00" x2="366.90" y2="1031.00" stroke="#000" stroke-width="2"/>
<text x="366.90" y="1069.00" font-size="38" text-anchor="middle">13</text>
<line x1="560.80" y1="1022.00" x2="560.80" y2="1031.00" stroke="#000" stroke-width="2"/>
<text x="560.80" y="1069.00" font-size="38" text-anchor="middle">14</text>
<line x1="754.70" y1="1022.00" x2="754.70" y2="1031.00" stroke="#000" stroke-width="2"/>
<text x="754.70" y="1069.00" font-size="38" text-anchor="middle">15</text>
<line x1="948.60" y1="1022.00" x2="948.60" y2="1031.00" stroke="#000" stroke-width="2"/>
<text x="948.60" y="1069.00" font-size="38" text-anchor="middle">16</text>
<line x1="1142.50" y1="1022.00" x2="1142.50" y2="1031.00" stroke="#000" stroke-width="2"/>
<text x="1142.50" y="1069.00" font-size="38" text-anchor="middle">17</text>
<rect x="1336.00" y="1014.60" width="155.60" height="7.70" fill="#78ff28"/>
<rect x="1336.00" y="1000.40" width="155.60" height="14.80" fill="#ffc300"/>
<rect x="1336.00" y="986.20" width="155.60" height="14.80" fill="#ff1e00"/>
<rect x="1336.00" y="972.00" width="155.60" height="14.80" fill="#960000"/>
<rect x="1336.00" y="957.80" width="155.60" height="14.80" fill="#960000"/>
<rect x="1336.00" y="943.60" width="155.60" height="14.80" fill="#ff2800"/>
<rect x="1336.00" y="929.40" width="155.60" height="14.80" fill="#ebff00"/>
<rect x="1336.00" y="915.20" width="155.60" height="14.80" fill="#00ff96"/>
<rect x="1336.00" y="901.00" width="155.60" height="14.80" fill="#00beff"/>
<rect x="1336.00" y="886.80" width="155.60" height="14.80" fill="#005aff"/>
<rect x="1336.00" y="865.50" width="155.60" height="21.90" fill="#0014ff"/>
<rect x="1336.00" y="837.10" width="155.60" height="29.00" fill="#0000d7"/>
<rect x="1336.00" y="808.70" width="155.60" height="29.00" fill="#0000af"/>
<rect x="1336.00" y="780.30" width="155.60" height="29.00" fill="#000091"/>
<rect x="1336.00" y="751.90" width="155.60" height="29.00" fill="#000090"/>
<rect x="1336.00" y="723.50" width="155.60" height="29.00" fill="#00008e"/>
<rect x="1336.00" y="695.10" width="155.60" height="29.00" fill="#00008d"/>
<rect x="1336.00" y="666.70" width="155.60" height="29.00" fill="#00008b"/>
<rect x="1336.00" y="638.30" width="155.60" height="29.00" fill="#00008a"/>
<rect x="1336.00" y="609.90" width="155.60" height="29.00" fill="#000088"/>
<rect x="1336.00" y="595.70" width="155.60" height="14.80" fill="#000087"/>
<rect x="1491.20" y="1014.60" width="155.60" height="7.70" fill="#00ff82"/>
<rect x="1491.20" y="1000.40" width="155.60" height="14.80" fill="#ffe600"/>
<rect x="1491.20" y="986.20" width="155.60" height="14.80" fill="#ff3c00"/>
<rect x="1491.20" y="972.00" width="155.60" height="14.80" fill="#960000"/>
<rect x="1491.20" y="957.80" width="155.60" height="14.80" fill="#960000"/>
<rect x="1491.20" y="943.60" width="155.60" height="14.80" fill="#ff2d00"/>
<rect x="1491.20" y="929.40" width="155.60" height="14.80" fill="#ebff00"/>
<rect x="1491.20" y="915.20" width="155.60" height="14.80" fill="#00ff96"/>
<rect x="1491.20" y="901.00" width="155.60" height="14.80" fill="#00beff"/>
<rect x="1491.20" y="886.80" width="155.60" height="14.80" fill="#005aff"/>
<rect x="1491.20" y="865.50" width="155.60" height="21.90" fill="#0014ff"/>
<rect x="1491.20" y="837.10" width="155.60" height="29.00" fill="#0000d7"/>
<rect x="1491.20" y="808.70" width="155.60" height="29.00" fill="#0000af"/>
<rect x="1491.20" y="780.30" width="155.60" height="29.00" fill="#000091"/>
<rect x="1491.20" y="751.90" width="155.60" height="29.00" fill="#000090"/>
<rect x="1491.20" y="723.50" width="155.60" height="29.00" fill="#00008e"/>
<rect x="1491.20" y="695.10" width="155.60" height="29.00" fill="#00008d"/>
<rect x="1491.20" y="666.70" width="155.60" height="29.00" fill="#00008b"/>
<rect x="1491.20" y="638.30" width="155.60" height="29.00" fill="#00008a"/>
<rect x="1491.20" y="609.90" width="155.60" height="29.00" fill="#000088"/>
<rect x="1491.20" y="595.70" width="155.60" height="14.80" fill="#000087"/>
<rect x="1646.40" y="1014.60" width="155.60" height="7.70" fill="#00ff82"/>
<rect x="1646.40" y="1000.40" width="155.60" height="14.80" fill="#c8ff00"/>
<rect x="1646.40" y="986.20" width="155.60" height="14.80" fill="#ff7800"/>
<rect x="1646.40" y="972.00" width="155.60" height="14.80" fill="#ff0000"/>
<rect x="1646.40" y="957.80" width="155.60" height="14.80" fill="#dc0000"/>
<rect x="1646.40" y="943.60" width="155.60" height="14.80" fill="#ff4b00"/>
<rect x="1646.40" y="929.40" width="155.60" height="14.80" fill="#ebff00"/>
<rect x="1646.40" y="915.20" width="155.60" height="14.80" fill="#00ff96"/>
<rect x="1646.40" y="901.00" width="155.60" height="14.80" fill="#00c3ff"/>
<rect x="1646.40" y="886.80" width="155.60" height="14.80" fill="#0055ff"/>
<rect x="1646.40" y="865.50" width="155.60" height="21.90" fill="#001eff"/>
<rect x="1646.40" y="837.10" width="155.60" height="29.00" fill="#0000d7"/>
<rect x="1646.40" y="808.70" width="155.60" height="29.00" fill="#0000af"/>
<rect x="1646.40" y="780.30" width="155.60" height="29.00" fill="#000091"/>
<rect x="1646.40" y="751.90" width="155.60" height="29.00" fill="#000090"/>
<rect x="1646.40" y="723.50" width="155.60" height="29.00" fill="#00008e"/>
<rect x="1646.40" y="695.10" width="155.60" height="29.00" fill="#00008d"/>
<rect x="1646.40" y="666.70" width="155.60" height="29.00" fill="#00008b"/>
<rect x="1646.40" y="638.30" width="155.60" height="29.00" fill="#00008a"/>
<rect x="1646.40" y="609.90" width="155.60" height="29.00" fill="#000088"/>
<rect x="1646.40" y="595.70" width="155.60" height="14.80" fill="#000087"/>
<rect x="1801.60" y="1014.60" width="155.60" height="7.70" fill="#00ff82"/>
<rect x="1801.60" y="1000.40" width="155.60" height="14.80" fill="#c8ff00"/>
<rect x="1801.60" y="986.20" width="155.60" height="14.80" fill="#ff8c00"/>
<rect x="1801.60" y="972.00" width="155.60" height="14.80" fill="#ff2d00"/>
<rect x="1801.60" y="957.80" width="155.60" height="14.80" fill="#ff2d00"/>
<rect x="1801.60" y="943.60" width="155.60" height="14.80" fill="#ff9600"/>
<rect x="1801.60" y="929.40" width="155.60" height="14.80" fill="#a0ff00"/>
<rect x="1801.60" y="915.20" width="155.60" height="14.80" fill="#00ffc8"/>
<rect x="1801.60" y="901.00" width="155.60" height="14.80" fill="#00a0ff"/>
<rect x="1801.60" y="886.80" width="155.60" height="14.80" fill="#004bff"/>
<rect x="1801.60" y="865.50" width="155.60" height="21.90" fill="#000aff"/>
<rect x="1801.60" y="837.10" width="155.60" height="29.00" fill="#0000cd"/>
<rect x="1801.60" y="808.70" width="155.60" height="29.00" fill="#0000aa"/>
<rect x="1801.60" y="780.30" width="155.60" height="29.00" fill="#000091"/>
<rect x="1801.60" y="751.90" width="155.60" height="29.00" fill="#000090"/>
<rect x="1801.60" y="723.50" width="155.60" height="29.00" fill="#00008e"/>
<rect x="1801.60" y="695.10" width="155.60" height="29.00" fill="#00008d"/>
<rect x="1801.60" y="666.70" width="155.60" height="29.00" fill="#00008b"/>
<rect x="1801.60" y="638.30" width="155.60" height="29.00" fill="#00008a"/>
<rect x="1801.60" y="609.90" width="155.60" height="29.00" fill="#000088"/>
<rect x="1801.60" y="595.70" width="155.60" height="14.80" fill="#000087"/>
<rect x="1956.80" y="1014.60" width="155.60" height="7.70" fill="#78ff28"/>
<rect x="1956.80" y="1000.40" width="155.60" height="14.80" fill="#ffb400"/>
<rect x="1956.80" y="986.20" width="155.60" height="14.80" fill="#ff1400"/>
<rect x="1956.80" y="972.00" width="155.60" height="14.80" fill="#dc0000"/>
<rect x="1956.80" y="957.80" width="155.60" height="14.80" fill="#ff4600"/>
<rect x="1956.80" y="943.60" width="155.60" height="14.80" fill="#fff000"/>
<rect x="1956.80" y="929.40" width="155.60" height="14.80" fill="#00ff96"/>
<rect x="1956.80" y="915.20" width="155.60" height="14.80" fill="#00beff"/>
<rect x="1956.80" y="901.00" width="155.60" height="14.80" fill="#0064ff"/>
<rect x="1956.80" y="886.80" width="155.60" height="14.80" fill="#0028ff"/>
<rect x="1956.80" y="865.50" width="155.60" height="21.90" fill="#000aff"/>
<rect x="1956.80" y="837.10" width="155.60" height="29.00" fill="#0000c3"/>
<rect x="1956.80" y="808.70" width="155.60" height="29.00" fill="#0000a5"/>
<rect x="1956.80" y="780.30" width="155.60" height="29.00" fill="#000091"/>
<rect x="1956.80" y="751.90" width="155.60" height="29.00" fill="#000090"/>
<rect x="1956.80" y="723.50" width="155.60" height="29.00" fill="#00008e"/>
<rect x="1956.80" y="695.10" width="155.60" height="29.00" fill="#00008d"/>
<rect x="1956.80" y="666.70" width="155.60" height="29.00" fill="#00008b"/>
<rect x="1956.80" y="638.30" width="155.60" height="29.00" fill="#00008a"/>
<rect x="1956.80" y="609.90" width="155.60" height="29.00" fill="#000088"/>
<rect x="1956.80" y="595.70" width="155.60" height="14.80" fill="#000087"/>
<rect x="1336.00" y="596.00" width="776.00" height="426.00" fill="none" stroke="#000" stroke-width="2"/>
<line x1="1327.00" y1="1022.00" x2="1336.00" y2="1022.00" stroke="#000" stroke-width="2"/>
<text x="1317.00" y="1036.20" font-size="38" text-anchor="end">0.0</text>
<line x1="1327.00" y1="951.00" x2="1336.00" y2="951.00" stroke="#000" stroke-width="2"/>
<text x="1317.00" y="965.20" font-size="38" text-anchor="end">0.5</text>
<line x1="1327.00" y1="880.00" x2="1336.00" y2="880.00" stroke="#000" stroke-width="2"/>
<text x="1317.00" y="894.20" font-size="38" text-anchor="end">1.0</text>
<line x1="1327.00" y1="809.00" x2="1336.00" y2="809.00" stroke="#000" stroke-width="2"/>
<text x="1317.00" y="823.20" font-size="38" text-anchor="end">1.5</text>
<line x1="1327.00" y1="738.00" x2="1336.00" y2="738.00" stroke="#000" stroke-width="2"/>
<text x="1317.00" y="752.20" font-size="38" text-anchor="end">2.0</text>
<line x1="1327.00" y1="667.00" x2="1336.00" y2="667.00" stroke="#000" stroke-width="2"/>
<text x="1317.00" y="681.20" font-size="38" text-anchor="end">2.5</text>
<line x1="1327.00" y1="596.00" x2="1336.00" y2="596.00" stroke="#000" stroke-width="2"/>
<text x="1317.00" y="610.20" font-size="38" text-anchor="end">3.0</text>
<line x1="1336.00" y1="1022.00" x2="1336.00" y2="1031.00" stroke="#000" stroke-width="2"/>
<text x="1336.00" y="1069.00" font-size="38" text-anchor="middle">12</text>
<line x1="1491.20" y1="1022.00" x2="1491.20" y2="1031.00" stroke="#000" stroke-width="2"/>
<text x="1491.20" y="1069.00" font-size="38" text-anchor="middle">13</text>
<line x1="1646.40" y1="1022.00" x2="1646.40" y2="1031.00" stroke="#000" stroke-width="2"/>
<text x="1646.40" y="1069.00" font-size="38" text-anchor="middle">14</text>
<line x1="1801.60" y1="1022.00" x2="1801.60" y2="1031.00" stroke="#000" stroke-width="2"/>
<text x="1801.60" y="1069.00" font-size="38" text-anchor="middle">15</text>
<line x1="1956.80" y1="1022.00" x2="1956.80" y2="1031.00" stroke="#000" stroke-width="2"/>
<text x="1956.80" y="1069.00" font-size="38" text-anchor="middle">16</text>
<line x1="2112.00" y1="1022.00" x2="2112.00" y2="1031.00" stroke="#000" stroke-width="2"/>
<text x="2112.00" y="1069.00" font-size="38" text-anchor="middle">17</text>
<rect x="173.00" y="1525.60" width="194.30" height="7.70" fill="#00ff64"/>
<rect x="173.00" y="1511.40" width="194.30" height="14.80" fill="#00ff78"/>
<rect x="173.00" y="1497.20" width="194.30" height="14.80" fill="#00ff8c"/>
<rect x="173.00" y="1483.00" width="194.30" height="14.80" fill="#00ffc8"/>
<rect x="173.00" y="1468.80" width="194.30" height="14.80" fill="#00d2ff"/>
<rect x="173.00" y="1454.60" width="194.30" height="14.80" fill="#0087ff"/>
<rect x="173.00" y="1440.40" width="194.30" height="14.80" fill="#0064ff"/>
<rect x="173.00" y="1426.20" width="194.30" height="14.80" fill="#0050ff"/>
<rect x="173.00" y="1412.00" width="194.30" height="14.80" fill="#003cff"/>
<rect x="173.00" y="1397.80" width="194.30" height="14.80" fill="#0032ff"/>
<rect x="173.00" y="1376.50" width="194.30" height="21.90" fill="#0028ff"/>
<rect x="173.00" y="1348.10" width="194.30" height="29.00" fill="#001eff"/>
<rect x="173.00" y="1319.70" width="194.30" height="29.00" fill="#0016ff"/>
<rect x="173.00" y="1291.30" width="194.30" height="29.00" fill="#000cff"/>
<rect x="173.00" y="1262.90" width="194.30" height="29.00" fill="#0000f8"/>
<rect x="173.00" y="1234.50" width="194.30" height="29.00" fill="#0000f7"/>
<rect x="173.00" y="1206.10" width="194.30" height="29.00" fill="#0000f6"/>
<rect x="173.00" y="1177.70" width="194.30" height="29.00" fill="#0000f6"/>
<rect x="173.00" y="1149.30" width="194.30" height="29.00" fill="#0000f5"/>
<rect x="173.00" y="1120.90" width="194.30" height="29.00" fill="#0000eb"/>
<rect x="173.00" y="1106.70" width="194.30" height="14.80" fill="#0000e1"/>
<rect x="366.90" y="1525.60" width="194.30" height="7.70" fill="#00ff78"/>
<rect x="366.90" y="1511.40" width="194.30" height="14.80" fill="#00ffc8"/>
<rect x="366.90" y="1497.20" width="194.30" height="14.80" fill="#00ffe1"/>
<rect x="366.90" y="1483.00" width="194.30" height="14.80" fill="#00c8ff"/>
<rect x="366.90" y="1468.80" width="194.30" height="14.80" fill="#008cff"/>
<rect x="366.90" y="1454.60" width="194.30" height="14.80" fill="#005aff"/>
<rect x="366.90" y="1440.40" width="194.30" height="14.80" fill="#0037ff"/>
<rect x="366.90" y="1426.20" width="194.30" height="14.80" fill="#0028ff"/>
<rect x="366.90" y="1412.00" width="194.30" height="14.80" fill="#0014ff"/>
<rect x="366.90" y="1397.80" width="194.30" height="14.80" fill="#000aff"/>
<rect x="366.90" y="1376.50" width="194.30" height="21.90" fill="#0000fa"/>
<rect x="366.90" y="1348.10" width="194.30" height="29.00" fill="#0000f5"/>
<rect x="366.90" y="1319.70" width="194.30" height="29.00" fill="#0000f4"/>
<rect x="366.90" y="1291.30" width="194.30" height="29.00" fill="#0000f4"/>
<rect x="366.90" y="1262.90" width="194.30" height="29.00" fill="#0000f3"/>
<rect x="366.90" y="1234.50" width="194.30" height="29.00" fill="#0000f2"/>
<rect x="366.90" y="1206.10" width="194.30" height="29.00" fill="#0000f1"/>
<rect x="366.90" y="1177.70" width="194.30" height="29.00" fill="#0000f1"/>
<rect x="366.90" y="1149.30" width="194.30" height="29.00" fill="#0000f0"/>
<rect x="366.90" y="1120.90" width="194.30" height="29.00" fill="#0000e6"/>
<rect x="366.90" y="1106.70" width="194.30" height="14.80" fill="#0000e1"/>
<rect x="560.80" y="1525.60" width="194.30" height="7.70" fill="#00ff96"/>
<rect x="560.80" y="1511.40" width="194.30" height="14.80" fill="#00ffbe"/>
<rect x="560.80" y="1497.20" width="194.30" height="14.80" fill="#00ffe1"/>
<rect x="560.80" y="1483.00" width="194.30" height="14.80" fill="#00beff"/>
<rect x="560.80" y="1468.80" width="194.30" height="14.80" fill="#0082ff"/>
<rect x="560.80" y="1454.60" width="194.30" height="14.80" fill="#0055ff"/>
<rect x="560.80" y="1440.40" width="194.30" height="14.80" fill="#003cff"/>
<rect x="560.80" y="1426.20" width="194.30" height="14.80" fill="#0028ff"/>
<rect x="560.80" y="1412.00" width="194.30" height="14.80" fill="#001eff"/>
<rect x="560.80" y="1397.80" width="194.30" height="14.80" fill="#0016ff"/>
<rect x="560.80" y="1376.50" width="194.30" height="21.90" fill="#0016ff"/>
<rect x="560.80" y="1348.10" width="194.30" height="29.00" fill="#0016ff"/>
<rect x="560.80" y="1319.70" width="194.30" height="29.00" fill="#0015ff"/>
<rect x="560.80" y="1291.30" width="194.30" height="29.00" fill="#0014ff"/>
<rect x="560.80" y="1262.90" width="194.30" height="29.00" fill="#000aff"/>
<rect x="560.80" y="1234.50" width="194.30" height="29.00" fill="#0000f5"/>
<rect x="560.80" y="1206.10" width="194.30" height="29.00" fill="#0000f3"/>
<rect x="560.80" y="1177.70" width="194.30" height="29.00" fill="#0000f2"/>
<rect x="560.80" y="1149.30" width="194.30" height="29.00" fill="#0000f0"/>
<rect x="560.80" y="1120.90" width="194.30" height="29.00" fill="#0000ee"/>
<rect x="560.80" y="1106.70" width="194.30" height="14.80" fill="#0000e8"/>
<rect x="754.70" y="1525.60" width="194.30" height="7.70" fill="#8cff14"/>
<rect x="754.70" y="1511.40" width="194.30" height="14.80" fill="#00ff96"/>
<rect x="754.70" y="1497.20" width="194.30" height="14.80" fill="#00ffaa"/>
<rect x="754.70" y="1483.00" width="194.30" height="14.80" fill="#00ebff"/>
<rect x="754.70" y="1468.80" width="194.30" height="14.80" fill="#00aaff"/>
<rect x="754.70" y="1454.60" width="194.30" height="14.80" fill="#0078ff"/>
<rect x="754.70" y="1440.40" width="194.30" height="14.80" fill="#0055ff"/>
<rect x="754.70" y="1426.20" width="194.30" height="14.80" fill="#0037ff"/>
<rect x="754.70" y="1412.00" width="194.30" height="14.80" fill="#001eff"/>
<rect x="754.70" y="1397.80" width="194.30" height="14.80" fill="#000fff"/>
<rect x="754.70" y="1376.50" width="194.30" height="21.90" fill="#0000fa"/>
<rect x="754.70" y="1348.10" width="194.30" height="29.00" fill="#0000f8"/>
<rect x="754.70" y="1319.70" width="194.30" height="29.00" fill="#0000f8"/>
<rect x="754.70" y="1291.30" width="194.30" height="29.00" fill="#0000f7"/>
<rect x="754.70" y="1262.90" width="194.30" height="29.00" fill="#0000f6"/>
<rect x="754.70" y="1234.50" width="194.30" height="29.00" fill="#0000f6"/>
<rect x="754.70" y="1206.10" width="194.30" height="29.00" fill="#0000f6"/>
<rect x="754.70" y="1177.70" width="194.30" height="29.00" fill="#0000f5"/>
<rect x="754.70" y="1149.30" width="194.30" height="29.00" fill="#0000f2"/>
<rect x="754.70" y="1120.90" width="194.30" height="29.00" fill="#0000ee"/>
<rect x="754.70" y="1106.70" width="194.30" height="14.80" fill="#0000e8"/>
<rect x="948.60" y="1525.60" width="194.30" height="7.70" fill="#ff9b00"/>
<rect x="948.60" y="1511.40" width="194.30" height="14.80" fill="#aaff00"/>
<rect x="948.60" y="1497.20" width="194.30" height="14.80" fill="#00ff6e"/>
<rect x="948.60" y="1483.00" width="194.30" height="14.80" fill="#00ffc8"/>
<rect x="948.60" y="1468.80" width="194.30" height="14.80" fill="#00d2ff"/>
<rect x="948.60" y="1454.60" width="194.30" height="14.80" fill="#0091ff"/>
<rect x="948.60" y="1440.40" width="194.30" height="14.80" fill="#0073ff"/>
<rect x="948.60" y="1426.20" width="194.30" height="14.80" fill="#005aff"/>
<rect x="948.60" y="1412.00" width="194.30" height="14.80" fill="#004bff"/>
<rect x="948.60" y="1397.80" width="194.30" height="14.80" fill="#0046ff"/>
<rect x="948.60" y="1376.50" width="194.30" height="21.90" fill="#0041ff"/>
<rect x="948.60" y="1348.10" width="194.30" height="29.00" fill="#003cff"/>
<rect x="948.60" y="1319.70" width="194.30" height="29.00" fill="#003aff"/>
<rect x="948.60" y="1291.30" width="194.30" height="29.00" fill="#0037ff"/>
<rect x="948.60" y="1262.90" width="194.30" height="29.00" fill="#002dff"/>
<rect x="948.60" y="1234.50" width="194.30" height="29.00" fill="#0028ff"/>
<rect x="948.60" y="1206.10" width="194.30" height="29.00" fill="#0019ff"/>
<rect x="948.60" y="1177.70" width="194.30" height="29.00" fill="#000fff"/>
<rect x="948.60" y="1149.30" width="194.30" height="29.00" fill="#0000fa"/>
<rect x="948.60" y="1120.90" width="194.30" height="29.00" fill="#0000f9"/>
<rect x="948.60" y="1106.70" width="194.30" height="14.80" fill="#0000f8"/>
<rect x="173.00" y="1107.00" width="969.50" height="426.00" fill="none" stroke="#000" stroke-width="2"/>
<line x1="164.00" y1="1533.00" x2="173.00" y2="1533.00" stroke="#000" stroke-width="2"/>
<text x="154.00" y="1547.20" font-size="38" text-anchor="end">0.0</text>
<line x1="164.00" y1="1462.00" x2="173.00" y2="1462.00" stroke="#000" stroke-width="2"/>
<text x="154.00" y="1476.20" font-size="38" text-anchor="end">0.5</text>
<line x1="164.00" y1="1391.00" x2="173.00" y2="1391.00" stroke="#000" stroke-width="2"/>
<text x="154.00" y="1405.20" font-size="38" text-anchor="end">1.0</text>
<line x1="164.00" y1="1320.00" x2="173.00" y2="1320.00" stroke="#000" stroke-width="2"/>
<text x="154.00" y="1334.20" font-size="38" text-anchor="end">1.5</text>
<line x1="164.00" y1="1249.00" x2="173.00" y2="1249.00" stroke="#000" stroke-width="2"/>
<text x="154.00" y="1263.20" font-size="38" text-anchor="end">2.0</text>
<line x1="164.00" y1="1178.00" x2="173.00" y2="1178.00" stroke="#000" stroke-width="2"/>
<text x="154.00" y="1192.20" font-size="38" text-anchor="end">2.5</text>
<line x1="164.00" y1="1107.00" x2="173.00" y2="1107.00" stroke="#000" stroke-width="2"/>
<text x="154.00" y="1121.20" font-size="38" text-anchor="end">3.0</text>
<line x1="173.00" y1="1533.00" x2="173.00" y2="1542.00" stroke="#000" stroke-width="2"/>
<text x="173.00" y="1580.00" font-size="38" text-anchor="middle">12</text>
<line x1="366.90" y1="1533.00" x2="366.90" y2="1542.00" stroke="#000" stroke-width="2"/>
<text x="366.90" y="1580.00" font-size="38" text-anchor="middle">13</text>
<line x1="560.80" y1="1533.00" x2="560.80" y2="1542.00" stroke="#000" stroke-width="2"/>
<text x="560.80" y="1580.00" font-size="38" text-anchor="middle">14</text>
<line x1="754.70" y1="1533.00" x2="754.70" y2="1542.00" stroke="#000" stroke-width="2"/>
<text x="754.70" y="1580.00" font-size="38" text-anchor="middle">15</text>
<line x1="948.60" y1="1533.00" x2="948.60" y2="1542.00" stroke="#000" stroke-width="2"/>
<text x="948.60" y="1580.00" font-size="38" text-anchor="middle">16</text>
<line x1="1142.50" y1="1533.00" x2="1142.50" y2="1542.00" stroke="#000" stroke-width="2"/>
<text x="1142.50" y="1580.00" font-size="38" text-anchor="middle">17</text>
<rect x="1336.00" y="1525.60" width="155.60" height="7.70" fill="#96ff00"/>
<rect x="1336.00" y="1511.40" width="155.60" height="14.80" fill="#96ff00"/>
<rect x="1336.00" y="1497.20" width="155.60" height="14.80" fill="#ffe600"/>
<rect x="1336.00" y="1483.00" width="155.60" height="14.80" fill="#ffd700"/>
<rect x="1336.00" y="1468.80" width="155.60" height="14.80" fill="#78ff28"/>
<rect x="1336.00" y="1454.60" width="155.60" height="14.80" fill="#00ff8c"/>
<rect x="1336.00" y="1440.40" width="155.60" height="14.80" fill="#00e6ff"/>
<rect x="1336.00" y="1426.20" width="155.60" height="14.80" fill="#0096ff"/>
<rect x="1336.00" y="1412.00" width="155.60" height="14.80" fill="#006eff"/>
<rect x="1336.00" y="1397.80" width="155.60" height="14.80" fill="#0055ff"/>
<rect x="1336.00" y="1376.50" width="155.60" height="21.90" fill="#003cff"/>
<rect x="1336.00" y="1348.10" width="155.60" height="29.00" fill="#0032ff"/>
<rect x="1336.00" y="1319.70" width="155.60" height="29.00" fill="#0023ff"/>
<rect x="1336.00" y="1291.30" width="155.60" height="29.00" fill="#0014ff"/>
<rect x="1336.00" y="1262.90" width="155.60" height="29.00" fill="#0005fa"/>
<rect x="1336.00" y="1234.50" width="155.60" height="29.00" fill="#0000f5"/>
<rect x="1336.00" y="1206.10" width="155.60" height="29.00" fill="#0000f5"/>
<rect x="1336.00" y="1177.70" width="155.60" height="29.00" fill="#0000f5"/>
<rect x="1336.00" y="1149.30" width="155.60" height="29.00" fill="#0000f5"/>
<rect x="1336.00" y="1120.90" width="155.60" height="29.00" fill="#0000f5"/>
<rect x="1336.00" y="1106.70" width="155.60" height="14.80" fill="#0000f5"/>
<rect x="1491.20" y="1525.60" width="155.60" height="7.70" fill="#00ff82"/>
<rect x="1491.20" y="1511.40" width="155.60" height="14.80" fill="#00ff82"/>
<rect x="1491.20" y="1497.20" width="155.60" height="14.80" fill="#00ff64"/>
<rect x="1491.20" y="1483.00" width="155.60" height="14.80" fill="#00ff78"/>
<rect x="1491.20" y="1468.80" width="155.60" height="14.80" fill="#00ffbe"/>
<rect x="1491.20" y="1454.60" width="155.60" height="14.80" fill="#00e6ff"/>
<rect x="1491.20" y="1440.40" width="155.60" height="14.80" fill="#00b4ff"/>
<rect x="1491.20" y="1426.20" width="155.60" height="14.80" fill="#0078ff"/>
<rect x="1491.20" y="1412.00" width="155.60" height="14.80" fill="#004bff"/>
<rect x="1491.20" y="1397.80" width="155.60" height="14.80" fill="#003cff"/>
<rect x="1491.20" y="1376.50" width="155.60" height="21.90" fill="#002dff"/>
<rect x="1491.20" y="1348.10" width="155.60" height="29.00" fill="#0028ff"/>
<rect x="1491.20" y="1319.70" width="155.60" height="29.00" fill="#0019ff"/>
<rect x="1491.20" y="1291.30" width="155.60" height="29.00" fill="#000fff"/>
<rect x="1491.20" y="1262.90" width="155.60" height="29.00" fill="#0000f0"/>
<rect x="1491.20" y="1234.50" width="155.60" height="29.00" fill="#0000f0"/>
<rect x="1491.20" y="1206.10" width="155.60" height="29.00" fill="#0000f0"/>
<rect x="1491.20" y="1177.70" width="155.60" height="29.00" fill="#0000f0"/>
<rect x="1491.20" y="1149.30" width="155.60" height="29.00" fill="#0000f0"/>
<rect x="1491.20" y="1120.90" width="155.60" height="29.00" fill="#0000f0"/>
<rect x="1491.20" y="1106.70" width="155.60" height="14.80" fill="#0000e6"/>
<rect x="1646.40" y="1525.60" width="155.60" height="7.70" fill="#00ff64"/>
<rect x="1646.40" y="1511.40" width="155.60" height="14.80" fill="#00ff6e"/>
<rect x="1646.40" y="1497.20" width="155.60" height="14.80" fill="#5aff3c"/>
<rect x="1646.40" y="1483.00" width="155.60" height="14.80" fill="#64ff32"/>
<rect x="1646.40" y="1468.80" width="155.60" height="14.80" fill="#3cff46"/>
<rect x="1646.40" y="1454.60" width="155.60" height="14.80" fill="#00ff78"/>
<rect x="1646.40" y="1440.40" width="155.60" height="14.80" fill="#00ffc8"/>
<rect x="1646.40" y="1426.20" width="155.60" height="14.80" fill="#00ebff"/>
<rect x="1646.40" y="1412.00" width="155.60" height="14.80" fill="#00afff"/>
<rect x="1646.40" y="1397.80" width="155.60" height="14.80" fill="#008cff"/>
<rect x="1646.40" y="1376.50" width="155.60" height="21.90" fill="#0078ff"/>
<rect x="1646.40" y="1348.10" width="155.60" height="29.00" fill="#0064ff"/>
<rect x="1646.40" y="1319.70" width="155.60" height="29.00" fill="#0050ff"/>
<rect x="1646.40" y="1291.30" width="155.60" height="29.00" fill="#0041ff"/>
<rect x="1646.40" y="1262.90" width="155.60" height="29.00" fill="#0037ff"/>
<rect x="1646.40" y="1234.50" width="155.60" height="29.00" fill="#0028ff"/>
<rect x="1646.40" y="1206.10" width="155.60" height="29.00" fill="#0014ff"/>
<rect x="1646.40" y="1177.70" width="155.60" height="29.00" fill="#000aff"/>
<rect x="1646.40" y="1149.30" width="155.60" height="29.00" fill="#0000f5"/>
<rect x="1646.40" y="1120.90" width="155.60" height="29.00" fill="#0000f5"/>
<rect x="1646.40" y="1106.70" width="155.60" height="14.80" fill="#0000f5"/>
<rect x="1801.60" y="1525.60" width="155.60" height="7.70" fill="#f0ff00"/>
<rect x="1801.60" y="1511.40" width="155.60" height="14.80" fill="#f0ff00"/>
<rect x="1801.60" y="1497.20" width="155.60" height="14.80" fill="#ffbe00"/>
<rect x="1801.60" y="1483.00" width="155.60" height="14.80" fill="#ffe600"/>
<rect x="1801.60" y="1468.80" width="155.60" height="14.80" fill="#8cff1e"/>
<rect x="1801.60" y="1454.60" width="155.60" height="14.80" fill="#00ff6e"/>
<rect x="1801.60" y="1440.40" width="155.60" height="14.80" fill="#00ffc8"/>
<rect x="1801.60" y="1426.20" width="155.60" height="14.80" fill="#00d7ff"/>
<rect x="1801.60" y="1412.00" width="155.60" height="14.80" fill="#0096ff"/>
<rect x="1801.60" y="1397.80" width="155.60" height="14.80" fill="#006eff"/>
<rect x="1801.60" y="1376.50" width="155.60" height="21.90" fill="#0055ff"/>
<rect x="1801.60" y="1348.10" width="155.60" height="29.00" fill="#0041ff"/>
<rect x="1801.60" y="1319.70" width="155.60" height="29.00" fill="#0032ff"/>
<rect x="1801.60" y="1291.30" width="155.60" height="29.00" fill="#002dff"/>
<rect x="1801.60" y="1262.90" width="155.60" height="29.00" fill="#0028ff"/>
<rect x="1801.60" y="1234.50" width="155.60" height="29.00" fill="#001eff"/>
<rect x="1801.60" y="1206.10" width="155.60" height="29.00" fill="#000fff"/>
<rect x="1801.60" y="1177.70" width="155.60" height="29.00" fill="#0000f5"/>
<rect x="1801.60" y="1149.30" width="155.60" height="29.00" fill="#0000f5"/>
<rect x="1801.60" y="1120.90" width="155.60" height="29.00" fill="#0000f5"/>
<rect x="1801.60" y="1106.70" width="155.60" height="14.80" fill="#0000f5"/>
<rect x="1956.80" y="1525.60" width="155.60" height="7.70" fill="#ff2800"/>
<rect x="1956.80" y="1511.40" width="155.60" height="14.80" fill="#ff8200"/>
<rect x="1956.80" y="1497.20" width="155.60" height="14.80" fill="#ffb400"/>
<rect x="1956.80" y="1483.00" width="155.60" height="14.80" fill="#e6ff00"/>
<rect x="1956.80" y="1468.80" width="155.60" height="14.80" fill="#64ff32"/>
<rect x="1956.80" y="1454.60" width="155.60" height="14.80" fill="#00ff78"/>
<rect x="1956.80" y="1440.40" width="155.60" height="14.80" fill="#00ffaa"/>
<rect x="1956.80" y="1426.20" width="155.60" height="14.80" fill="#00ffdc"/>
<rect x="1956.80" y="1412.00" width="155.60" height="14.80" fill="#00f0ff"/>
<rect x="1956.80" y="1397.80" width="155.60" height="14.80" fill="#00e6ff"/>
<rect x="1956.80" y="1376.50" width="155.60" height="21.90" fill="#00dcff"/>
<rect x="1956.80" y="1348.10" width="155.60" height="29.00" fill="#00d2ff"/>
<rect x="1956.80" y="1319.70" width="155.60" height="29.00" fill="#00c3ff"/>
<rect x="1956.80" y="1291.30" width="155.60" height="29.00" fill="#00aaff"/>
<rect x="1956.80" y="1262.90" width="155.60" height="29.00" fill="#008cff"/>
<rect x="1956.80" y="1234.50" width="155.60" height="29.00" fill="#006cff"/>
<rect x="1956.80" y="1206.10" width="155.60" height="29.00" fill="#004bff"/>
<rect x="1956.80" y="1177.70" width="155.60" height="29.00" fill="#0037ff"/>
<rect x="1956.80" y="1149.30" width="155.60" height="29.00" fill="#0020ff"/>
<rect x="1956.80" y="1120.90" width="155.60" height="29.00" fill="#0000f5"/>
<rect x="1956.80" y="1106.70" width="155.60" height="14.80" fill="#0000f5"/>
<rect x="1336.00" y="1107.00" width="776.00" height="426.00" fill="none" stroke="#000" stroke-width="2"/>
<line x1="1327.00" y1="1533.00" x2="1336.00" y2="1533.00" stroke="#000" stroke-width="2"/>
<text x="1317.00" y="1547.20" font-size="38" text-anchor="end">0.0</text>
<line x1="1327.00" y1="1462.00" x2="1336.00" y2="1462.00" stroke="#000" stroke-width="2"/>
<text x="1317.00" y="1476.20" font-size="38" text-anchor="end">0.5</text>
<line x1="1327.00" y1="1391.00" x2="1336.00" y2="1391.00" stroke="#000" stroke-width="2"/>
<text x="1317.00" y="1405.20" font-size="38" text-anchor="end">1.0</text>
<line x1="1327.00" y1="1320.00" x2="1336.00" y2="1320.00" stroke="#000" stroke-width="2"/>
<text x="1317.00" y="1334.20" font-size="38" text-anchor="end">1.5</text>
<line x1="1327.00" y1="1249.00" x2="1336.00" y2="1249.00" stroke="#000" stroke-width="2"/>
<text x="1317.00" y="1263.20" font-size="38" text-anchor="end">2.0</text>
<line x1="1327.00" y1="1178.00" x2="1336.00" y2="1178.00" stroke="#000" stroke-width="2"/>
<text x="1317.00" y="1192.20" font-size="38" text-anchor="end">2.5</text>
<line x1="1327.00" y1="1107.00" x2="1336.00" y2="1107.00" stroke="#000" stroke-width="2"/>
<text x="1317.00" y="1121.20" font-size="38" text-anchor="end">3.0</text>
<line x1="1336.00" y1="1533.00" x2="1336.00" y2="1542.00" stroke="#000" stroke-width="2"/>
<text x="1336.00" y="1580.00" font-size="38" text-anchor="middle">12</text>
<line x1="1491.20" y1="1533.00" x2="1491.20" y2="1542.00" stroke="#000" stroke-width="2"/>
<text x="1491.20" y="1580.00" font-size="38" text-anchor="middle">13</text>
<line x1="1646.40" y1="1533.00" x2="1646.40" y2="1542.00" stroke="#000" stroke-width="2"/>
<text x="1646.40" y="1580.00" font-size="38" text-anchor="middle">14</text>
<line x1="1801.60" y1="1533.00" x2="1801.60" y2="1542.00" stroke="#000" stroke-width="2"/>
<text x="1801.60" y="1580.00" font-size="38" text-anchor="middle">15</text>
<line x1="1956.80" y1="1533.00" x2="1956.80" y2="1542.00" stroke="#000" stroke-width="2"/>
<text x="1956.80" y="1580.00" font-size="38" text-anchor="middle">16</text>
<line x1="2112.00" y1="1533.00" x2="2112.00" y2="1542.00" stroke="#000" stroke-width="2"/>
<text x="2112.00" y="1580.00" font-size="38" text-anchor="middle">17</text>
<rect x="173.00" y="2037.10" width="194.30" height="7.70" fill="#00b9ff"/>
<rect x="173.00" y="2022.90" width="194.30" height="14.80" fill="#00ffdc"/>
<rect x="173.00" y="2008.70" width="194.30" height="14.80" fill="#00ff6e"/>
<rect x="173.00" y="1994.50" width="194.30" height="14.80" fill="#d7ff00"/>
<rect x="173.00" y="1980.30" width="194.30" height="14.80" fill="#ffaa00"/>
<rect x="173.00" y="1966.10" width="194.30" height="14.80" fill="#ff8700"/>
<rect x="173.00" y="1951.90" width="194.30" height="14.80" fill="#ffbe00"/>
<rect x="173.00" y="1937.70" width="194.30" height="14.80" fill="#afff00"/>
<rect x="173.00" y="1923.50" width="194.30" height="14.80" fill="#00ff82"/>
<rect x="173.00" y="1909.30" width="194.30" height="14.80" fill="#00f0f0"/>
<rect x="173.00" y="1888.00" width="194.30" height="21.90" fill="#00a0ff"/>
<rect x="173.00" y="1859.60" width="194.30" height="29.00" fill="#001eff"/>
<rect x="173.00" y="1831.20" width="194.30" height="29.00" fill="#0000fa"/>
<rect x="173.00" y="1802.80" width="194.30" height="29.00" fill="#0000d7"/>
<rect x="173.00" y="1774.40" width="194.30" height="29.00" fill="#0000be"/>
<rect x="173.00" y="1746.00" width="194.30" height="29.00" fill="#0000a5"/>
<rect x="173.00" y="1717.60" width="194.30" height="29.00" fill="#00009e"/>
<rect x="173.00" y="1689.20" width="194.30" height="29.00" fill="#000096"/>
<rect x="173.00" y="1660.80" width="194.30" height="29.00" fill="#000094"/>
<rect x="173.00" y="1632.40" width="194.30" height="29.00" fill="#000093"/>
<rect x="173.00" y="1618.20" width="194.30" height="14.80" fill="#000091"/>
<rect x="366.90" y="2037.10" width="194.30" height="7.70" fill="#00c8ff"/>
<rect x="366.90" y="2022.90" width="194.30" height="14.80" fill="#00ffaa"/>
<rect x="366.90" y="2008.70" width="194.30" height="14.80" fill="#a5ff00"/>
<rect x="366.90" y="1994.50" width="194.30" height="14.80" fill="#ffb900"/>
<rect x="366.90" y="1980.30" width="194.30" height="14.80" fill="#ff3c00"/>
<rect x="366.90" y="1966.10" width="194.30" height="14.80" fill="#ff1900"/>
<rect x="366.90" y="1951.90" width="194.30" height="14.80" fill="#ff5a00"/>
<rect x="366.90" y="1937.70" width="194.30" height="14.80" fill="#ffdc00"/>
<rect x="366.90" y="1923.50" width="194.30" height="14.80" fill="#50ff3c"/>
<rect x="366.90" y="1909.30" width="194.30" height="14.80" fill="#00ffc8"/>
<rect x="366.90" y="1888.00" width="194.30" height="21.90" fill="#00d2ff"/>
<rect x="366.90" y="1859.60" width="194.30" height="29.00" fill="#003cff"/>
<rect x="366.90" y="1831.20" width="194.30" height="29.00" fill="#0000ff"/>
<rect x="366.90" y="1802.80" width="194.30" height="29.00" fill="#0000ee"/>
<rect x="366.90" y="1774.40" width="194.30" height="29.00" fill="#0000de"/>
<rect x="366.90" y="1746.00" width="194.30" height="29.00" fill="#0000af"/>
<rect x="366.90" y="1717.60" width="194.30" height="29.00" fill="#0000a0"/>
<rect x="366.90" y="1689.20" width="194.30" height="29.00" fill="#000096"/>
<rect x="366.90" y="1660.80" width="194.30" height="29.00" fill="#000094"/>
<rect x="366.90" y="1632.40" width="194.30" height="29.00" fill="#000093"/>
<rect x="366.90" y="1618.20" width="194.30" height="14.80" fill="#000091"/>
<rect x="560.80" y="2037.10" width="194.30" height="7.70" fill="#0096ff"/>
<rect x="560.80" y="2022.90" width="194.30" height="14.80" fill="#00f5f0"/>
<rect x="560.80" y="2008.70" width="194.30" height="14.80" fill="#00ff5f"/>
<rect x="560.80" y="1994.50" width="194.30" height="14.80" fill="#ffde00"/>
<rect x="560.80" y="1980.30" width="194.30" height="14.80" fill="#ff5500"/>
<rect x="560.80" y="1966.10" width="194.30" height="14.80" fill="#ff2a00"/>
<rect x="560.80" y="1951.90" width="194.30" height="14.80" fill="#ff6e00"/>
<rect x="560.80" y="1937.70" width="194.30" height="14.80" fill="#ffe100"/>
<rect x="560.80" y="1923.50" width="194.30" height="14.80" fill="#00ff5a"/>
<rect x="560.80" y="1909.30" width="194.30" height="14.80" fill="#00ffcd"/>
<rect x="560.80" y="1888.00" width="194.30" height="21.90" fill="#00b9ff"/>
<rect x="560.80" y="1859.60" width="194.30" height="29.00" fill="#002dff"/>
<rect x="560.80" y="1831.20" width="194.30" height="29.00" fill="#0000fa"/>
<rect x="560.80" y="1802.80" width="194.30" height="29.00" fill="#0000d2"/>
<rect x="560.80" y="1774.40" width="194.30" height="29.00" fill="#0000b4"/>
<rect x="560.80" y="1746.00" width="194.30" height="29.00" fill="#0000a5"/>
<rect x="560.80" y="1717.60" width="194.30" height="29.00" fill="#00009b"/>
<rect x="560.80" y="1689.20" width="194.30" height="29.00" fill="#000096"/>
<rect x="560.80" y="1660.80" width="194.30" height="29.00" fill="#000094"/>
<rect x="560.80" y="1632.40" width="194.30" height="29.00" fill="#000093"/>
<rect x="560.80" y="1618.20" width="194.30" height="14.80" fill="#000091"/>
<rect x="754.70" y="2037.10" width="194.30" height="7.70" fill="#006eff"/>
<rect x="754.70" y="2022.90" width="194.30" height="14.80" fill="#00d2ff"/>
<rect x="754.70" y="2008.70" width="194.30" height="14.80" fill="#00ffaa"/>
<rect x="754.70" y="1994.50" width="194.30" height="14.80" fill="#96ff00"/>
<rect x="754.70" y="1980.30" width="194.30" height="14.80" fill="#ffc300"/>
<rect x="754.70" y="1966.10" width="194.30" height="14.80" fill="#ffa500"/>
<rect x="754.70" y="1951.90" width="194.30" height="14.80" fill="#ffc300"/>
<rect x="754.70" y="1937.70" width="194.30" height="14.80" fill="#cdff00"/>
<rect x="754.70" y="1923.50" width="194.30" height="14.80" fill="#00ff5a"/>
<rect x="754.70" y="1909.30" width="194.30" height="14.80" fill="#00ffc8"/>
<rect x="754.70" y="1888.00" width="194.30" height="21.90" fill="#00cdff"/>
<rect x="754.70" y="1859.60" width="194.30" height="29.00" fill="#003cff"/>
<rect x="754.70" y="1831.20" width="194.30" height="29.00" fill="#0000fa"/>
<rect x="754.70" y="1802.80" width="194.30" height="29.00" fill="#0000e1"/>
<rect x="754.70" y="1774.40" width="194.30" height="29.00" fill="#0000c8"/>
<rect x="754.70" y="1746.00" width="194.30" height="29.00" fill="#0000af"/>
<rect x="754.70" y="1717.60" width="194.30" height="29.00" fill="#0000a0"/>
<rect x="754.70" y="1689.20" width="194.30" height="29.00" fill="#000096"/>
<rect x="754.70" y="1660.80" width="194.30" height="29.00" fill="#000094"/>
<rect x="754.70" y="1632.40" width="194.30" height="29.00" fill="#000093"/>
<rect x="754.70" y="1618.20" width="194.30" height="14.80" fill="#000091"/>
<rect x="948.60" y="2037.10" width="194.30" height="7.70" fill="#004bff"/>
<rect x="948.60" y="2022.90" width="194.30" height="14.80" fill="#00b9ff"/>
<rect x="948.60" y="2008.70" width="194.30" height="14.80" fill="#00ffaa"/>
<rect x="948.60" y="1994.50" width="194.30" height="14.80" fill="#64ff32"/>
<rect x="948.60" y="1980.30" width="194.30" height="14.80" fill="#d7ff00"/>
<rect x="948.60" y="1966.10" width="194.30" height="14.80" fill="#d7ff00"/>
<rect x="948.60" y="1951.90" width="194.30" height="14.80" fill="#78ff2d"/>
<rect x="948.60" y="1937.70" width="194.30" height="14.80" fill="#00ff8c"/>
<rect x="948.60" y="1923.50" width="194.30" height="14.80" fill="#00eeff"/>
<rect x="948.60" y="1909.30" width="194.30" height="14.80" fill="#0091ff"/>
<rect x="948.60" y="1888.00" width="194.30" height="21.90" fill="#0050ff"/>
<rect x="948.60" y="1859.60" width="194.30" height="29.00" fill="#0000fc"/>
<rect x="948.60" y="1831.20" width="194.30" height="29.00" fill="#0000d4"/>
<rect x="948.60" y="1802.80" width="194.30" height="29.00" fill="#0000be"/>
<rect x="948.60" y="1774.40" width="194.30" height="29.00" fill="#0000a5"/>
<rect x="948.60" y="1746.00" width="194.30" height="29.00" fill="#00009b"/>
<rect x="948.60" y="1717.60" width="194.30" height="29.00" fill="#000091"/>
<rect x="948.60" y="1689.20" width="194.30" height="29.00" fill="#000090"/>
<rect x="948.60" y="1660.80" width="194.30" height="29.00" fill="#000090"/>
<rect x="948.60" y="1632.40" width="194.30" height="29.00" fill="#00008f"/>
<rect x="948.60" y="1618.20" width="194.30" height="14.80" fill="#00008e"/>
<rect x="173.00" y="1618.50" width="969.50" height="426.00" fill="none" stroke="#000" stroke-width="2"/>
<line x1="164.00" y1="2044.50" x2="173.00" y2="2044.50" stroke="#000" stroke-width="2"/>
<text x="154.00" y="2058.70" font-size="38" text-anchor="end">0.0</text>
<line x1="164.00" y1="1973.50" x2="173.00" y2="1973.50" stroke="#000" stroke-width="2"/>
<text x="154.00" y="1987.70" font-size="38" text-anchor="end">0.5</text>
<line x1="164.00" y1="1902.50" x2="173.00" y2="1902.50" stroke="#000" stroke-width="2"/>
<text x="154.00" y="1916.70" font-size="38" text-anchor="end">1.0</text>
<line x1="164.00" y1="1831.50" x2="173.00" y2="1831.50" stroke="#000" stroke-width="2"/>
<text x="154.00" y="1845.70" font-size="38" text-anchor="end">1.5</text>
<line x1="164.00" y1="1760.50" x2="173.00" y2="1760.50" stroke="#000" stroke-width="2"/>
<text x="154.00" y="1774.70" font-size="38" text-anchor="end">2.0</text>
<line x1="164.00" y1="1689.50" x2="173.00" y2="1689.50" stroke="#000" stroke-width="2"/>
<text x="154.00" y="1703.70" font-size="38" text-anchor="end">2.5</text>
<line x1="164.00" y1="1618.50" x2="173.00" y2="1618.50" stroke="#000" stroke-width="2"/>
<text x="154.00" y="1632.70" font-size="38" text-anchor="end">3.0</text>
<line x1="173.00" y1="2044.50" x2="173.00" y2="2053.50" stroke="#000" stroke-width="2"/>
<text x="173.00" y="2091.50" font-size="38" text-anchor="middle">12</text>
<line x1="366.90" y1="2044.50" x2="366.90" y2="2053.50" stroke="#000" stroke-width="2"/>
<text x="366.90" y="2091.50" font-size="38" text-anchor="middle">13</text>
<line x1="560.80" y1="2044.50" x2="560.80" y2="2053.50" stroke="#000" stroke-width="2"/>
<text x="560.80" y="2091.50" font-size="38" text-anchor="middle">14</text>
<line x1="754.70" y1="2044.50" x2="754.70" y2="2053.50" stroke="#000" stroke-width="2"/>
<text x="754.70" y="2091.50" font-size="38" text-anchor="middle">15</text>
<line x1="948.60" y1="2044.50" x2="948.60" y2="2053.50" stroke="#000" stroke-width="2"/>
<text x="948.60" y="2091.50" font-size="38" text-anchor="middle">16</text>
<line x1="1142.50" y1="2044.50" x2="1142.50" y2="2053.50" stroke="#000" stroke-width="2"/>
<text x="1142.50" y="2091.50" font-size="38" text-anchor="middle">17</text>
<rect x="1336.00" y="2037.10" width="155.60" height="7.70" fill="#00ff96"/>
<rect x="1336.00" y="2022.90" width="155.60" height="14.80" fill="#96ff00"/>
<rect x="1336.00" y="2008.70" width="155.60" height="14.80" fill="#f5ff00"/>
<rect x="1336.00" y="1994.50" width="155.60" height="14.80" fill="#ff9600"/>
<rect x="1336.00" y="1980.30" width="155.60" height="14.80" fill="#ff2800"/>
<rect x="1336.00" y="1966.10" width="155.60" height="14.80" fill="#d20000"/>
<rect x="1336.00" y="1951.90" width="155.60" height="14.80" fill="#ff0000"/>
<rect x="1336.00" y="1937.70" width="155.60" height="14.80" fill="#ff8c00"/>
<rect x="1336.00" y="1923.50" width="155.60" height="14.80" fill="#aaff00"/>
<rect x="1336.00" y="1909.30" width="155.60" height="14.80" fill="#00ff96"/>
<rect x="1336.00" y="1888.00" width="155.60" height="21.90" fill="#00e6ff"/>
<rect x="1336.00" y="1859.60" width="155.60" height="29.00" fill="#0046ff"/>
<rect x="1336.00" y="1831.20" width="155.60" height="29.00" fill="#0000fa"/>
<rect x="1336.00" y="1802.80" width="155.60" height="29.00" fill="#0000d2"/>
<rect x="1336.00" y="1774.40" width="155.60" height="29.00" fill="#0000a5"/>
<rect x="1336.00" y="1746.00" width="155.60" height="29.00" fill="#00009b"/>
<rect x="1336.00" y="1717.60" width="155.60" height="29.00" fill="#000096"/>
<rect x="1336.00" y="1689.20" width="155.60" height="29.00" fill="#000091"/>
<rect x="1336.00" y="1660.80" width="155.60" height="29.00" fill="#000091"/>
<rect x="1336.00" y="1632.40" width="155.60" height="29.00" fill="#000091"/>
<rect x="1336.00" y="1618.20" width="155.60" height="14.80" fill="#000091"/>
<rect x="1491.20" y="2037.10" width="155.60" height="7.70" fill="#3cff46"/>
<rect x="1491.20" y="2022.90" width="155.60" height="14.80" fill="#ffe100"/>
<rect x="1491.20" y="2008.70" width="155.60" height="14.80" fill="#ff6400"/>
<rect x="1491.20" y="1994.50" width="155.60" height="14.80" fill="#960000"/>
<rect x="1491.20" y="1980.30" width="155.60" height="14.80" fill="#960000"/>
<rect x="1491.20" y="1966.10" width="155.60" height="14.80" fill="#960000"/>
<rect x="1491.20" y="1951.90" width="155.60" height="14.80" fill="#960000"/>
<rect x="1491.20" y="1937.70" width="155.60" height="14.80" fill="#ff5f00"/>
<rect x="1491.20" y="1923.50" width="155.60" height="14.80" fill="#d2ff00"/>
<rect x="1491.20" y="1909.30" width="155.60" height="14.80" fill="#00ff96"/>
<rect x="1491.20" y="1888.00" width="155.60" height="21.90" fill="#00ebff"/>
<rect x="1491.20" y="1859.60" width="155.60" height="29.00" fill="#0046ff"/>
<rect x="1491.20" y="1831.20" width="155.60" height="29.00" fill="#0000ff"/>
<rect x="1491.20" y="1802.80" width="155.60" height="29.00" fill="#0000d7"/>
<rect x="1491.20" y="1774.40" width="155.60" height="29.00" fill="#0000b4"/>
<rect x="1491.20" y="1746.00" width="155.60" height="29.00" fill="#0000a5"/>
<rect x="1491.20" y="1717.60" width="155.60" height="29.00" fill="#000096"/>
<rect x="1491.20" y="1689.20" width="155.60" height="29.00" fill="#000091"/>
<rect x="1491.20" y="1660.80" width="155.60" height="29.00" fill="#000091"/>
<rect x="1491.20" y="1632.40" width="155.60" height="29.00" fill="#000091"/>
<rect x="1491.20" y="1618.20" width="155.60" height="14.80" fill="#000091"/>
<rect x="1646.40" y="2037.10" width="155.60" height="7.70" fill="#00ff8c"/>
<rect x="1646.40" y="2022.90" width="155.60" height="14.80" fill="#96ff00"/>
<rect x="1646.40" y="2008.70" width="155.60" height="14.80" fill="#ffc300"/>
<rect x="1646.40" y="1994.50" width="155.60" height="14.80" fill="#ff5500"/>
<rect x="1646.40" y="1980.30" width="155.60" height="14.80" fill="#ff1e00"/>
<rect x="1646.40" y="1966.10" width="155.60" height="14.80" fill="#ff4600"/>
<rect x="1646.40" y="1951.90" width="155.60" height="14.80" fill="#ff9600"/>
<rect x="1646.40" y="1937.70" width="155.60" height="14.80" fill="#dcff00"/>
<rect x="1646.40" y="1923.50" width="155.60" height="14.80" fill="#00ff6e"/>
<rect x="1646.40" y="1909.30" width="155.60" height="14.80" fill="#00ffdc"/>
<rect x="1646.40" y="1888.00" width="155.60" height="21.90" fill="#00afff"/>
<rect x="1646.40" y="1859.60" width="155.60" height="29.00" fill="#0023ff"/>
<rect x="1646.40" y="1831.20" width="155.60" height="29.00" fill="#0000f5"/>
<rect x="1646.40" y="1802.80" width="155.60" height="29.00" fill="#0000c8"/>
<rect x="1646.40" y="1774.40" width="155.60" height="29.00" fill="#0000a5"/>
<rect x="1646.40" y="1746.00" width="155.60" height="29.00" fill="#00009b"/>
<rect x="1646.40" y="1717.60" width="155.60" height="29.00" fill="#000091"/>
<rect x="1646.40" y="1689.20" width="155.60" height="29.00" fill="#000091"/>
<rect x="1646.40" y="1660.80" width="155.60" height="29.00" fill="#000091"/>
<rect x="1646.40" y="1632.40" width="155.60" height="29.00" fill="#000091"/>
<rect x="1646.40" y="1618.20" width="155.60" height="14.80" fill="#000091"/>
<rect x="1801.60" y="2037.10" width="155.60" height="7.70" fill="#00ffd2"/>
<rect x="1801.60" y="2022.90" width="155.60" height="14.80" fill="#00ff8c"/>
<rect x="1801.60" y="2008.70" width="155.60" height="14.80" fill="#46ff3c"/>
<rect x="1801.60" y="1994.50" width="155.60" height="14.80" fill="#ebff00"/>
<rect x="1801.60" y="1980.30" width="155.60" height="14.80" fill="#ffa500"/>
<rect x="1801.60" y="1966.10" width="155.60" height="14.80" fill="#ff8c00"/>
<rect x="1801.60" y="1951.90" width="155.60" height="14.80" fill="#ffb400"/>
<rect x="1801.60" y="1937.70" width="155.60" height="14.80" fill="#beff00"/>
<rect x="1801.60" y="1923.50" width="155.60" height="14.80" fill="#00ff78"/>
<rect x="1801.60" y="1909.30" width="155.60" height="14.80" fill="#00ffe1"/>
<rect x="1801.60" y="1888.00" width="155.60" height="21.90" fill="#00aaff"/>
<rect x="1801.60" y="1859.60" width="155.60" height="29.00" fill="#001eff"/>
<rect x="1801.60" y="1831.20" width="155.60" height="29.00" fill="#0000f0"/>
<rect x="1801.60" y="1802.80" width="155.60" height="29.00" fill="#0000d2"/>
<rect x="1801.60" y="1774.40" width="155.60" height="29.00" fill="#0000a5"/>
<rect x="1801.60" y="1746.00" width="155.60" height="29.00" fill="#00009b"/>
<rect x="1801.60" y="1717.60" width="155.60" height="29.00" fill="#000091"/>
<rect x="1801.60" y="1689.20" width="155.60" height="29.00" fill="#000091"/>
<rect x="1801.60" y="1660.80" width="155.60" height="29.00" fill="#000091"/>
<rect x="1801.60" y="1632.40" width="155.60" height="29.00" fill="#000091"/>
<rect x="1801.60" y="1618.20" width="155.60" height="14.80" fill="#000091"/>
<rect x="1956.80" y="2037.10" width="155.60" height="7.70" fill="#00b4ff"/>
<rect x="1956.80" y="2022.90" width="155.60" height="14.80" fill="#00ffa0"/>
<rect x="1956.80" y="2008.70" width="155.60" height="14.80" fill="#aaff00"/>
<rect x="1956.80" y="1994.50" width="155.60" height="14.80" fill="#ffbe00"/>
<rect x="1956.80" y="1980.30" width="155.60" height="14.80" fill="#ff9600"/>
<rect x="1956.80" y="1966.10" width="155.60" height="14.80" fill="#ffd700"/>
<rect x="1956.80" y="1951.90" width="155.60" height="14.80" fill="#64ff32"/>
<rect x="1956.80" y="1937.70" width="155.60" height="14.80" fill="#00ffbe"/>
<rect x="1956.80" y="1923.50" width="155.60" height="14.80" fill="#00afff"/>
<rect x="1956.80" y="1909.30" width="155.60" height="14.80" fill="#0050ff"/>
<rect x="1956.80" y="1888.00" width="155.60" height="21.90" fill="#000afa"/>
<rect x="1956.80" y="1859.60" width="155.60" height="29.00" fill="#0000d7"/>
<rect x="1956.80" y="1831.20" width="155.60" height="29.00" fill="#0000b4"/>
<rect x="1956.80" y="1802.80" width="155.60" height="29.00" fill="#0000a5"/>
<rect x="1956.80" y="1774.40" width="155.60" height="29.00" fill="#000096"/>
<rect x="1956.80" y="1746.00" width="155.60" height="29.00" fill="#00008c"/>
<rect x="1956.80" y="1717.60" width="155.60" height="29.00" fill="#00008c"/>
<rect x="1956.80" y="1689.20" width="155.60" height="29.00" fill="#00008c"/>
<rect x="1956.80" y="1660.80" width="155.60" height="29.00" fill="#00008c"/>
<rect x="1956.80" y="1632.40" width="155.60" height="29.00" fill="#00008c"/>
<rect x="1956.80" y="1618.20" width="155.60" height="14.80" fill="#00008c"/>
<rect x="1336.00" y="1618.50" width="776.00" height="426.00" fill="none" stroke="#000" stroke-width="2"/>
<line x1="1327.00" y1="2044.50" x2="1336.00" y2="2044.50" stroke="#000" stroke-width="2"/>
<text x="1317.00" y="2058.70" font-size="38" text-anchor="end">0.0</text>
<line x1="1327.00" y1="1973.50" x2="1336.00" y2="1973.50" stroke="#000" stroke-width="2"/>
<text x="1317.00" y="1987.70" font-size="38" text-anchor="end">0.5</text>
<line x1="1327.00" y1="1902.50" x2="1336.00" y2="1902.50" stroke="#000" stroke-width="2"/>
<text x="1317.00" y="1916.70" font-size="38" text-anchor="end">1.0</text>
<line x1="1327.00" y1="1831.50" x2="1336.00" y2="1831.50" stroke="#000" stroke-width="2"/>
<text x="1317.00" y="1845.70" font-size="38" text-anchor="end">1.5</text>
<line x1="1327.00" y1="1760.50" x2="1336.00" y2="1760.50" stroke="#000" stroke-width="2"/>
<text x="1317.00" y="1774.70" font-size="38" text-anchor="end">2.0</text>
<line x1="1327.00" y1="1689.50" x2="1336.00" y2="1689.50" stroke="#000" stroke-width="2"/>
<text x="1317.00" y="1703.70" font-size="38" text-anchor="end">2.5</text>
<line x1="1327.00" y1="1618.50" x2="1336.00" y2="1618.50" stroke="#000" stroke-width="2"/>
<text x="1317.00" y="1632.70" font-size="38" text-anchor="end">3.0</text>
<line x1="1336.00" y1="2044.50" x2="1336.00" y2="2053.50" stroke="#000" stroke-width="2"/>
<text x="1336.00" y="2091.50" font-size="38" text-anchor="middle">12</text>
<line x1="1491.20" y1="2044.50" x2="1491.20" y2="2053.50" stroke="#000" stroke-width="2"/>
<text x="1491.20" y="2091.50" font-size="38" text-anchor="middle">13</text>
<line x1="1646.40" y1="2044.50" x2="1646.40" y2="2053.50" stroke="#000" stroke-width="2"/>
<text x="1646.40" y="2091.50" font-size="38" text-anchor="middle">14</text>
<line x1="1801.60" y1="2044.50" x2="1801.60" y2="2053.50" stroke="#000" stroke-width="2"/>
<text x="1801.60" y="2091.50" font-size="38" text-anchor="middle">15</text>
<line x1="1956.80" y1="2044.50" x2="1956.80" y2="2053.50" stroke="#000" stroke-width="2"/>
<text x="1956.80" y="2091.50" font-size="38" text-anchor="middle">16</text>
<line x1="2112.00" y1="2044.50" x2="2112.00" y2="2053.50" stroke="#000" stroke-width="2"/>
<text x="2112.00" y="2091.50" font-size="38" text-anchor="middle">17</text>
<defs><linearGradient id="g0" x1="0" y1="0" x2="0" y2="1"><stop offset="0.0000" stop-color="#870000"/><stop offset="0.0440" stop-color="#c80000"/><stop offset="0.1000" stop-color="#ff0000"/><stop offset="0.1450" stop-color="#ff1e00"/><stop offset="0.2000" stop-color="#ff5000"/><stop offset="0.2600" stop-color="#ff8c00"/><stop offset="0.3000" stop-color="#ffb400"/><stop offset="0.3460" stop-color="#ffe800"/><stop offset="0.3800" stop-color="#dcf000"/><stop offset="0.4240" stop-color="#96e814"/><stop offset="0.4600" stop-color="#50e83c"/><stop offset="0.4800" stop-color="#00f064"/><stop offset="0.5250" stop-color="#00ff96"/><stop offset="0.5750" stop-color="#00ffd2"/><stop offset="0.6200" stop-color="#00f0ff"/><stop offset="0.6700" stop-color="#00c3ff"/><stop offset="0.7700" stop-color="#0064ff"/><stop offset="0.8700" stop-color="#0008ff"/><stop offset="0.9100" stop-color="#0000dc"/><stop offset="1.0000" stop-color="#000082"/></linearGradient></defs>
<rect x="2160.20" y="85.00" width="21.90" height="426.00" fill="url(#g0)" stroke="#000" stroke-width="1.5"/>
<line x1="2182.10" y1="511.00" x2="2191.10" y2="511.00" stroke="#000" stroke-width="2"/>
<text x="2199.50" y="525.20" font-size="38" text-anchor="start">0</text>
<line x1="2182.10" y1="369.00" x2="2191.10" y2="369.00" stroke="#000" stroke-width="2"/>
<text x="2199.50" y="383.20" font-size="38" text-anchor="start">50</text>
<line x1="2182.10" y1="227.00" x2="2191.10" y2="227.00" stroke="#000" stroke-width="2"/>
<text x="2199.50" y="241.20" font-size="38" text-anchor="start">100</text>
<line x1="2182.10" y1="85.00" x2="2191.10" y2="85.00" stroke="#000" stroke-width="2"/>
<text x="2199.50" y="99.20" font-size="38" text-anchor="start">150</text>
<text transform="translate(2321.00,296.50) rotate(-90)" font-size="51" text-anchor="middle">O<tspan font-size="35.7" dy="9">3</tspan><tspan dy="-9"> VMR (ppb)</tspan></text>
<defs><linearGradient id="g1" x1="0" y1="0" x2="0" y2="1"><stop offset="0.0000" stop-color="#870000"/><stop offset="0.0440" stop-color="#c80000"/><stop offset="0.1000" stop-color="#ff0000"/><stop offset="0.1450" stop-color="#ff1e00"/><stop offset="0.2000" stop-color="#ff5000"/><stop offset="0.2600" stop-color="#ff8c00"/><stop offset="0.3000" stop-color="#ffb400"/><stop offset="0.3460" stop-color="#ffe800"/><stop offset="0.3800" stop-color="#dcf000"/><stop offset="0.4240" stop-color="#96e814"/><stop offset="0.4600" stop-color="#50e83c"/><stop offset="0.4800" stop-color="#00f064"/><stop offset="0.5250" stop-color="#00ff96"/><stop offset="0.5750" stop-color="#00ffd2"/><stop offset="0.6200" stop-color="#00f0ff"/><stop offset="0.6700" stop-color="#00c3ff"/><stop offset="0.7700" stop-color="#0064ff"/><stop offset="0.8700" stop-color="#0008ff"/><stop offset="0.9100" stop-color="#0000dc"/><stop offset="1.0000" stop-color="#000082"/></linearGradient></defs>
<rect x="2160.20" y="596.00" width="21.90" height="426.00" fill="url(#g1)" stroke="#000" stroke-width="1.5"/>
<line x1="2182.10" y1="1022.00" x2="2191.10" y2="1022.00" stroke="#000" stroke-width="2"/>
<text x="2199.50" y="1036.20" font-size="38" text-anchor="start">0</text>
<line x1="2182.10" y1="936.80" x2="2191.10" y2="936.80" stroke="#000" stroke-width="2"/>
<text x="2199.50" y="951.00" font-size="38" text-anchor="start">3</text>
<line x1="2182.10" y1="851.60" x2="2191.10" y2="851.60" stroke="#000" stroke-width="2"/>
<text x="2199.50" y="865.80" font-size="38" text-anchor="start">6</text>
<line x1="2182.10" y1="766.40" x2="2191.10" y2="766.40" stroke="#000" stroke-width="2"/>
<text x="2199.50" y="780.60" font-size="38" text-anchor="start">9</text>
<line x1="2182.10" y1="681.20" x2="2191.10" y2="681.20" stroke="#000" stroke-width="2"/>
<text x="2199.50" y="695.40" font-size="38" text-anchor="start">12</text>
<line x1="2182.10" y1="596.00" x2="2191.10" y2="596.00" stroke="#000" stroke-width="2"/>
<text x="2199.50" y="610.20" font-size="38" text-anchor="start">15</text>
<text transform="translate(2297.50,809.00) rotate(-90)" font-size="51" text-anchor="middle">HCHO VMR (ppb)</text>
<defs><linearGradient id="g2" x1="0" y1="0" x2="0" y2="1"><stop offset="0.0000" stop-color="#870000"/><stop offset="0.0440" stop-color="#c80000"/><stop offset="0.1000" stop-color="#ff0000"/><stop offset="0.1450" stop-color="#ff1e00"/><stop offset="0.2000" stop-color="#ff5000"/><stop offset="0.2600" stop-color="#ff8c00"/><stop offset="0.3000" stop-color="#ffb400"/><stop offset="0.3460" stop-color="#ffe800"/><stop offset="0.3800" stop-color="#dcf000"/><stop offset="0.4240" stop-color="#96e814"/><stop offset="0.4600" stop-color="#50e83c"/><stop offset="0.4800" stop-color="#00f064"/><stop offset="0.5250" stop-color="#00ff96"/><stop offset="0.5750" stop-color="#00ffd2"/><stop offset="0.6200" stop-color="#00f0ff"/><stop offset="0.6700" stop-color="#00c3ff"/><stop offset="0.7700" stop-color="#0064ff"/><stop offset="0.8700" stop-color="#0008ff"/><stop offset="0.9100" stop-color="#0000dc"/><stop offset="1.0000" stop-color="#000082"/></linearGradient></defs>
<rect x="2160.20" y="1107.00" width="21.90" height="426.00" fill="url(#g2)" stroke="#000" stroke-width="1.5"/>
<line x1="2182.10" y1="1533.00" x2="2191.10" y2="1533.00" stroke="#000" stroke-width="2"/>
<text x="2199.50" y="1547.20" font-size="38" text-anchor="start">0</text>
<line x1="2182.10" y1="1447.80" x2="2191.10" y2="1447.80" stroke="#000" stroke-width="2"/>
<text x="2199.50" y="1462.00" font-size="38" text-anchor="start">1</text>
<line x1="2182.10" y1="1362.60" x2="2191.10" y2="1362.60" stroke="#000" stroke-width="2"/>
<text x="2199.50" y="1376.80" font-size="38" text-anchor="start">2</text>
<line x1="2182.10" y1="1277.40" x2="2191.10" y2="1277.40" stroke="#000" stroke-width="2"/>
<text x="2199.50" y="1291.60" font-size="38" text-anchor="start">3</text>
<line x1="2182.10" y1="1192.20" x2="2191.10" y2="1192.20" stroke="#000" stroke-width="2"/>
<text x="2199.50" y="1206.40" font-size="38" text-anchor="start">4</text>
<line x1="2182.10" y1="1107.00" x2="2191.10" y2="1107.00" stroke="#000" stroke-width="2"/>
<text x="2199.50" y="1121.20" font-size="38" text-anchor="start">5</text>
<text transform="translate(2272.50,1320.00) rotate(-90)" font-size="51" text-anchor="middle">NO<tspan font-size="35.7" dy="9">2</tspan><tspan dy="-9"> VMR (ppb)</tspan></text>
<defs><linearGradient id="g3" x1="0" y1="0" x2="0" y2="1"><stop offset="0.0000" stop-color="#870000"/><stop offset="0.0440" stop-color="#c80000"/><stop offset="0.1000" stop-color="#ff0000"/><stop offset="0.1450" stop-color="#ff1e00"/><stop offset="0.2000" stop-color="#ff5000"/><stop offset="0.2600" stop-color="#ff8c00"/><stop offset="0.3000" stop-color="#ffb400"/><stop offset="0.3460" stop-color="#ffe800"/><stop offset="0.3800" stop-color="#dcf000"/><stop offset="0.4240" stop-color="#96e814"/><stop offset="0.4600" stop-color="#50e83c"/><stop offset="0.4800" stop-color="#00f064"/><stop offset="0.5250" stop-color="#00ff96"/><stop offset="0.5750" stop-color="#00ffd2"/><stop offset="0.6200" stop-color="#00f0ff"/><stop offset="0.6700" stop-color="#00c3ff"/><stop offset="0.7700" stop-color="#0064ff"/><stop offset="0.8700" stop-color="#0008ff"/><stop offset="0.9100" stop-color="#0000dc"/><stop offset="1.0000" stop-color="#000082"/></linearGradient></defs>
<rect x="2160.20" y="1618.50" width="21.90" height="426.00" fill="url(#g3)" stroke="#000" stroke-width="1.5"/>
<line x1="2182.10" y1="2044.50" x2="2191.10" y2="2044.50" stroke="#000" stroke-width="2"/>
<text x="2199.50" y="2058.70" font-size="38" text-anchor="start">0</text>
<line x1="2182.10" y1="1938.00" x2="2191.10" y2="1938.00" stroke="#000" stroke-width="2"/>
<text x="2199.50" y="1952.20" font-size="38" text-anchor="start">1</text>
<line x1="2182.10" y1="1831.50" x2="2191.10" y2="1831.50" stroke="#000" stroke-width="2"/>
<text x="2199.50" y="1845.70" font-size="38" text-anchor="start">2</text>
<line x1="2182.10" y1="1725.00" x2="2191.10" y2="1725.00" stroke="#000" stroke-width="2"/>
<text x="2199.50" y="1739.20" font-size="38" text-anchor="start">3</text>
<line x1="2182.10" y1="1618.50" x2="2191.10" y2="1618.50" stroke="#000" stroke-width="2"/>
<text x="2199.50" y="1632.70" font-size="38" text-anchor="start">4</text>
<text transform="translate(2272.50,1831.50) rotate(-90)" font-size="51" text-anchor="middle">HCHO/NO<tspan font-size="35.7" dy="9">2</tspan></text>
<text x="657.75" y="70.00" font-size="51" text-anchor="middle">Non-polluted days</text>
<text x="1724.00" y="70.00" font-size="51" text-anchor="middle">Polluted days</text>
<text x="172.50" y="70.00" font-size="38" text-anchor="start">(a)</text>
<text x="1335.50" y="70.00" font-size="38" text-anchor="start">(b)</text>
<text x="657.75" y="2149.00" font-size="51" text-anchor="middle">Local time (h)</text>
<text x="1724.00" y="2149.00" font-size="51" text-anchor="middle">Local time (h)</text>
<text transform="translate(74.2,298.00) rotate(-90)" font-size="51" text-anchor="middle">Height (km)</text>
<text transform="translate(74.2,809.00) rotate(-90)" font-size="51" text-anchor="middle">Height (km)</text>
<text transform="translate(74.2,1320.00) rotate(-90)" font-size="51" text-anchor="middle">Height (km)</text>
<text transform="translate(74.2,1831.50) rotate(-90)" font-size="51" text-anchor="middle">Height (km)</text>
</svg>
</body></html>
